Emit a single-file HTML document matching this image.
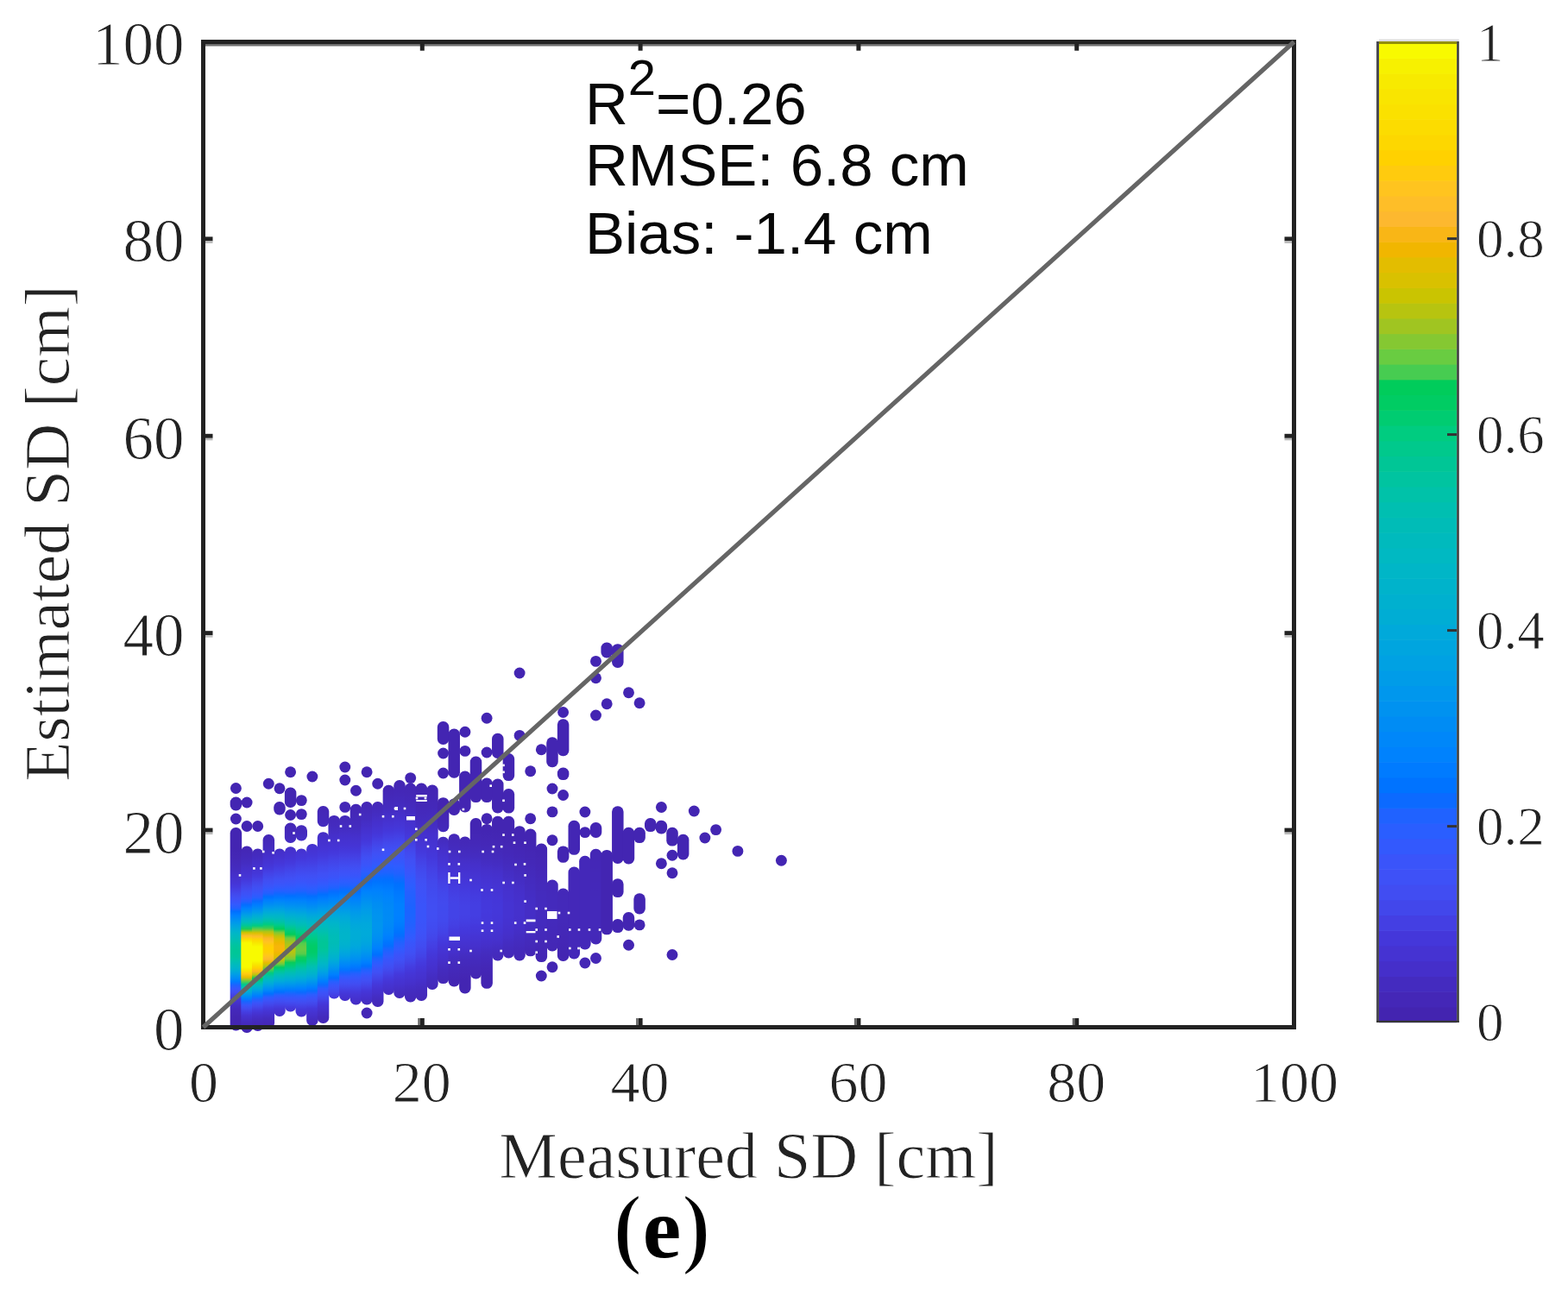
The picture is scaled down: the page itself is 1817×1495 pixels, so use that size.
<!DOCTYPE html>
<html><head><meta charset="utf-8"><style>
html,body{margin:0;padding:0;background:#fff;}
body{width:1817px;height:1495px;overflow:hidden;}
svg{display:block;}
</style></head><body>
<svg width="1817" height="1495" viewBox="0 0 1817 1495">
<rect width="100%" height="100%" fill="#fff"/>
<g id="sc"><defs><linearGradient id="g1" x1="0" y1="0" x2="0" y2="1"><stop offset="0.000" stop-color="#4325b2"/><stop offset="0.103" stop-color="#4325b2"/><stop offset="0.121" stop-color="#4326b4"/><stop offset="0.138" stop-color="#4427b5"/><stop offset="0.155" stop-color="#4428b7"/><stop offset="0.172" stop-color="#4429ba"/><stop offset="0.190" stop-color="#442abd"/><stop offset="0.207" stop-color="#442cc0"/><stop offset="0.224" stop-color="#452ec6"/><stop offset="0.241" stop-color="#4530cd"/><stop offset="0.259" stop-color="#4533d1"/><stop offset="0.276" stop-color="#4535d7"/><stop offset="0.293" stop-color="#443ade"/><stop offset="0.310" stop-color="#4441e5"/><stop offset="0.328" stop-color="#4249ed"/><stop offset="0.345" stop-color="#404ff4"/><stop offset="0.362" stop-color="#3b53f9"/><stop offset="0.379" stop-color="#325afe"/><stop offset="0.397" stop-color="#2261ff"/><stop offset="0.414" stop-color="#0070ff"/><stop offset="0.431" stop-color="#007fff"/><stop offset="0.448" stop-color="#008bf5"/><stop offset="0.466" stop-color="#0098ec"/><stop offset="0.483" stop-color="#00a3e1"/><stop offset="0.500" stop-color="#00add4"/><stop offset="0.517" stop-color="#00b5c9"/><stop offset="0.534" stop-color="#00babe"/><stop offset="0.552" stop-color="#00beb3"/><stop offset="0.569" stop-color="#00c2a7"/><stop offset="0.586" stop-color="#00c59c"/><stop offset="0.603" stop-color="#00c697"/><stop offset="0.621" stop-color="#00c698"/><stop offset="0.638" stop-color="#00c49f"/><stop offset="0.655" stop-color="#00c1ae"/><stop offset="0.672" stop-color="#00bbbb"/><stop offset="0.690" stop-color="#00b5c9"/><stop offset="0.707" stop-color="#00abd7"/><stop offset="0.724" stop-color="#009de7"/><stop offset="0.741" stop-color="#008df4"/><stop offset="0.759" stop-color="#007bff"/><stop offset="0.776" stop-color="#1f62ff"/><stop offset="0.793" stop-color="#3756fb"/><stop offset="0.810" stop-color="#414ef3"/><stop offset="0.828" stop-color="#4441e5"/><stop offset="0.845" stop-color="#4536d7"/><stop offset="0.862" stop-color="#4531cd"/><stop offset="0.879" stop-color="#442dc2"/><stop offset="0.897" stop-color="#4429bb"/><stop offset="0.914" stop-color="#4427b7"/><stop offset="0.931" stop-color="#4326b3"/><stop offset="0.948" stop-color="#4325b2"/><stop offset="1.000" stop-color="#4325b2"/></linearGradient><linearGradient id="g2" x1="0" y1="0" x2="0" y2="1"><stop offset="0.000" stop-color="#4426b5"/><stop offset="0.019" stop-color="#4427b6"/><stop offset="0.037" stop-color="#4428b8"/><stop offset="0.056" stop-color="#4429bb"/><stop offset="0.074" stop-color="#442bbe"/><stop offset="0.093" stop-color="#442dc2"/><stop offset="0.111" stop-color="#452fc8"/><stop offset="0.130" stop-color="#4531ce"/><stop offset="0.148" stop-color="#4533d2"/><stop offset="0.167" stop-color="#4536d7"/><stop offset="0.185" stop-color="#443ade"/><stop offset="0.204" stop-color="#4441e5"/><stop offset="0.222" stop-color="#4248ec"/><stop offset="0.241" stop-color="#404ef3"/><stop offset="0.259" stop-color="#3c52f8"/><stop offset="0.278" stop-color="#3458fd"/><stop offset="0.296" stop-color="#2560ff"/><stop offset="0.315" stop-color="#046eff"/><stop offset="0.333" stop-color="#0080ff"/><stop offset="0.352" stop-color="#008ff2"/><stop offset="0.370" stop-color="#00a0e4"/><stop offset="0.389" stop-color="#00afd1"/><stop offset="0.407" stop-color="#00bbbc"/><stop offset="0.426" stop-color="#00c796"/><stop offset="0.444" stop-color="#1ecc56"/><stop offset="0.463" stop-color="#cdc300"/><stop offset="0.481" stop-color="#febe28"/><stop offset="0.500" stop-color="#fbde00"/><stop offset="0.519" stop-color="#f8fa00"/><stop offset="0.648" stop-color="#f8fa00"/><stop offset="0.667" stop-color="#f8e600"/><stop offset="0.685" stop-color="#ffca11"/><stop offset="0.704" stop-color="#e4bd00"/><stop offset="0.722" stop-color="#6ccc40"/><stop offset="0.741" stop-color="#00c98a"/><stop offset="0.759" stop-color="#00bbba"/><stop offset="0.778" stop-color="#00aed4"/><stop offset="0.796" stop-color="#0099eb"/><stop offset="0.815" stop-color="#0082fd"/><stop offset="0.833" stop-color="#1865ff"/><stop offset="0.852" stop-color="#3856fb"/><stop offset="0.870" stop-color="#414cf0"/><stop offset="0.889" stop-color="#443de1"/><stop offset="0.907" stop-color="#4534d3"/><stop offset="0.926" stop-color="#452fc9"/><stop offset="0.944" stop-color="#442bbe"/><stop offset="0.963" stop-color="#4428b9"/><stop offset="0.981" stop-color="#4426b5"/><stop offset="1.000" stop-color="#4325b2"/></linearGradient><linearGradient id="g3" x1="0" y1="0" x2="0" y2="1"><stop offset="0.000" stop-color="#4429b9"/><stop offset="0.019" stop-color="#442abc"/><stop offset="0.038" stop-color="#442bbf"/><stop offset="0.058" stop-color="#442dc4"/><stop offset="0.077" stop-color="#452fca"/><stop offset="0.096" stop-color="#4531cf"/><stop offset="0.115" stop-color="#4534d3"/><stop offset="0.135" stop-color="#4436d8"/><stop offset="0.154" stop-color="#443bdf"/><stop offset="0.173" stop-color="#4442e6"/><stop offset="0.192" stop-color="#4249ed"/><stop offset="0.212" stop-color="#404ff3"/><stop offset="0.231" stop-color="#3c53f8"/><stop offset="0.250" stop-color="#3458fd"/><stop offset="0.269" stop-color="#275fff"/><stop offset="0.288" stop-color="#096cff"/><stop offset="0.308" stop-color="#007dff"/><stop offset="0.327" stop-color="#008bf5"/><stop offset="0.346" stop-color="#009aea"/><stop offset="0.365" stop-color="#00aad9"/><stop offset="0.385" stop-color="#00b6c7"/><stop offset="0.404" stop-color="#00c0af"/><stop offset="0.423" stop-color="#00cc80"/><stop offset="0.442" stop-color="#68cc42"/><stop offset="0.462" stop-color="#d9c100"/><stop offset="0.481" stop-color="#febd29"/><stop offset="0.500" stop-color="#fdd800"/><stop offset="0.519" stop-color="#f7ea00"/><stop offset="0.538" stop-color="#f8fa00"/><stop offset="0.615" stop-color="#f8fa00"/><stop offset="0.635" stop-color="#f8e600"/><stop offset="0.654" stop-color="#ffd200"/><stop offset="0.673" stop-color="#fab720"/><stop offset="0.692" stop-color="#bac40e"/><stop offset="0.712" stop-color="#00cc5d"/><stop offset="0.731" stop-color="#00c49e"/><stop offset="0.750" stop-color="#00b8c3"/><stop offset="0.769" stop-color="#00a9db"/><stop offset="0.788" stop-color="#0093ef"/><stop offset="0.808" stop-color="#007dff"/><stop offset="0.827" stop-color="#2261ff"/><stop offset="0.846" stop-color="#3a54fa"/><stop offset="0.865" stop-color="#424aee"/><stop offset="0.885" stop-color="#443bdf"/><stop offset="0.904" stop-color="#4533d2"/><stop offset="0.923" stop-color="#452ec7"/><stop offset="0.942" stop-color="#442bbd"/><stop offset="0.962" stop-color="#4428b8"/><stop offset="0.981" stop-color="#4426b5"/><stop offset="1.000" stop-color="#4325b2"/></linearGradient><linearGradient id="g4" x1="0" y1="0" x2="0" y2="1"><stop offset="0.000" stop-color="#4427b6"/><stop offset="0.018" stop-color="#4428b8"/><stop offset="0.036" stop-color="#4429ba"/><stop offset="0.054" stop-color="#442abd"/><stop offset="0.071" stop-color="#442cbf"/><stop offset="0.089" stop-color="#442dc4"/><stop offset="0.107" stop-color="#452fca"/><stop offset="0.125" stop-color="#4531cf"/><stop offset="0.143" stop-color="#4533d3"/><stop offset="0.161" stop-color="#4436d8"/><stop offset="0.179" stop-color="#443ade"/><stop offset="0.196" stop-color="#4441e5"/><stop offset="0.214" stop-color="#4247eb"/><stop offset="0.232" stop-color="#414df1"/><stop offset="0.250" stop-color="#3e51f6"/><stop offset="0.268" stop-color="#3955fa"/><stop offset="0.286" stop-color="#305bff"/><stop offset="0.304" stop-color="#2161ff"/><stop offset="0.321" stop-color="#016fff"/><stop offset="0.339" stop-color="#007eff"/><stop offset="0.357" stop-color="#008af5"/><stop offset="0.375" stop-color="#0098ec"/><stop offset="0.393" stop-color="#00a5df"/><stop offset="0.411" stop-color="#00b1cf"/><stop offset="0.429" stop-color="#00babf"/><stop offset="0.446" stop-color="#00c2a7"/><stop offset="0.464" stop-color="#00cc80"/><stop offset="0.482" stop-color="#39cc53"/><stop offset="0.500" stop-color="#abc519"/><stop offset="0.518" stop-color="#e1be00"/><stop offset="0.536" stop-color="#fcb729"/><stop offset="0.554" stop-color="#ffc321"/><stop offset="0.571" stop-color="#ffcc09"/><stop offset="0.589" stop-color="#ffd000"/><stop offset="0.607" stop-color="#ffce06"/><stop offset="0.625" stop-color="#ffc61c"/><stop offset="0.643" stop-color="#fdb92e"/><stop offset="0.661" stop-color="#e6bc00"/><stop offset="0.679" stop-color="#b7c411"/><stop offset="0.696" stop-color="#4fcc4e"/><stop offset="0.714" stop-color="#00cc80"/><stop offset="0.732" stop-color="#00c1ab"/><stop offset="0.750" stop-color="#00b8c4"/><stop offset="0.768" stop-color="#00abd8"/><stop offset="0.786" stop-color="#009aea"/><stop offset="0.804" stop-color="#0087f9"/><stop offset="0.821" stop-color="#0071ff"/><stop offset="0.839" stop-color="#2c5dff"/><stop offset="0.857" stop-color="#3c52f8"/><stop offset="0.875" stop-color="#4249ed"/><stop offset="0.893" stop-color="#443ce0"/><stop offset="0.911" stop-color="#4534d4"/><stop offset="0.929" stop-color="#4530cb"/><stop offset="0.946" stop-color="#442cc0"/><stop offset="0.964" stop-color="#4429ba"/><stop offset="0.982" stop-color="#4427b6"/><stop offset="1.000" stop-color="#4326b4"/></linearGradient><linearGradient id="g5" x1="0" y1="0" x2="0" y2="1"><stop offset="0.000" stop-color="#442ec5"/><stop offset="0.021" stop-color="#4530cb"/><stop offset="0.042" stop-color="#4531cf"/><stop offset="0.062" stop-color="#4534d3"/><stop offset="0.083" stop-color="#4536d8"/><stop offset="0.104" stop-color="#443ade"/><stop offset="0.125" stop-color="#4440e4"/><stop offset="0.146" stop-color="#4246ea"/><stop offset="0.167" stop-color="#414cf0"/><stop offset="0.188" stop-color="#3f51f6"/><stop offset="0.208" stop-color="#3b54f9"/><stop offset="0.229" stop-color="#3359fd"/><stop offset="0.250" stop-color="#265fff"/><stop offset="0.271" stop-color="#0e69ff"/><stop offset="0.292" stop-color="#0078ff"/><stop offset="0.312" stop-color="#0085fb"/><stop offset="0.333" stop-color="#0090f1"/><stop offset="0.354" stop-color="#009de7"/><stop offset="0.375" stop-color="#00a9da"/><stop offset="0.396" stop-color="#00b3cb"/><stop offset="0.417" stop-color="#00babd"/><stop offset="0.438" stop-color="#00c2a6"/><stop offset="0.458" stop-color="#00cb85"/><stop offset="0.479" stop-color="#00cc5c"/><stop offset="0.500" stop-color="#7ec936"/><stop offset="0.521" stop-color="#bdc40b"/><stop offset="0.542" stop-color="#debf00"/><stop offset="0.562" stop-color="#eeb800"/><stop offset="0.583" stop-color="#f7b50a"/><stop offset="0.604" stop-color="#f7b50a"/><stop offset="0.625" stop-color="#eeb800"/><stop offset="0.646" stop-color="#dcc000"/><stop offset="0.667" stop-color="#b7c410"/><stop offset="0.688" stop-color="#6ecc3f"/><stop offset="0.708" stop-color="#00cc65"/><stop offset="0.729" stop-color="#00c794"/><stop offset="0.750" stop-color="#00beb5"/><stop offset="0.771" stop-color="#00b5c8"/><stop offset="0.792" stop-color="#00a9db"/><stop offset="0.812" stop-color="#0098ec"/><stop offset="0.833" stop-color="#0086f9"/><stop offset="0.854" stop-color="#0071ff"/><stop offset="0.875" stop-color="#2a5eff"/><stop offset="0.896" stop-color="#3b53f9"/><stop offset="0.917" stop-color="#414bef"/><stop offset="0.938" stop-color="#443ee2"/><stop offset="0.958" stop-color="#4535d6"/><stop offset="0.979" stop-color="#4531cd"/><stop offset="1.000" stop-color="#442dc3"/></linearGradient><linearGradient id="g6" x1="0" y1="0" x2="0" y2="1"><stop offset="0.000" stop-color="#4427b5"/><stop offset="0.200" stop-color="#4428b7"/><stop offset="0.400" stop-color="#4429b9"/><stop offset="0.600" stop-color="#442abc"/><stop offset="0.800" stop-color="#442bbf"/><stop offset="1.000" stop-color="#442dc3"/></linearGradient><linearGradient id="g7" x1="0" y1="0" x2="0" y2="1"><stop offset="0.000" stop-color="#452fc9"/><stop offset="0.021" stop-color="#4531cd"/><stop offset="0.043" stop-color="#4532d1"/><stop offset="0.064" stop-color="#4534d5"/><stop offset="0.085" stop-color="#4437da"/><stop offset="0.106" stop-color="#443bdf"/><stop offset="0.128" stop-color="#4441e5"/><stop offset="0.149" stop-color="#4247eb"/><stop offset="0.170" stop-color="#414cf0"/><stop offset="0.191" stop-color="#4050f5"/><stop offset="0.213" stop-color="#3c53f9"/><stop offset="0.234" stop-color="#3557fc"/><stop offset="0.255" stop-color="#2c5dff"/><stop offset="0.277" stop-color="#1d63ff"/><stop offset="0.298" stop-color="#0070ff"/><stop offset="0.319" stop-color="#007dff"/><stop offset="0.340" stop-color="#0088f8"/><stop offset="0.362" stop-color="#0093f0"/><stop offset="0.383" stop-color="#009ee6"/><stop offset="0.404" stop-color="#00a9da"/><stop offset="0.426" stop-color="#00b2cd"/><stop offset="0.447" stop-color="#00b9c0"/><stop offset="0.468" stop-color="#00c0b0"/><stop offset="0.489" stop-color="#00c796"/><stop offset="0.511" stop-color="#00cc75"/><stop offset="0.532" stop-color="#02cc5a"/><stop offset="0.553" stop-color="#6ecc3f"/><stop offset="0.574" stop-color="#99c625"/><stop offset="0.596" stop-color="#b2c414"/><stop offset="0.617" stop-color="#bbc40d"/><stop offset="0.638" stop-color="#b7c411"/><stop offset="0.660" stop-color="#a1c521"/><stop offset="0.681" stop-color="#75cb3b"/><stop offset="0.702" stop-color="#0acc59"/><stop offset="0.723" stop-color="#00cc78"/><stop offset="0.745" stop-color="#00c59b"/><stop offset="0.766" stop-color="#00bdb6"/><stop offset="0.787" stop-color="#00b5c8"/><stop offset="0.809" stop-color="#00aad9"/><stop offset="0.830" stop-color="#009be9"/><stop offset="0.851" stop-color="#008af5"/><stop offset="0.872" stop-color="#0078ff"/><stop offset="0.894" stop-color="#2062ff"/><stop offset="0.915" stop-color="#3657fc"/><stop offset="0.936" stop-color="#4050f5"/><stop offset="0.957" stop-color="#4345e9"/><stop offset="0.979" stop-color="#4438dc"/><stop offset="1.000" stop-color="#4533d2"/></linearGradient><linearGradient id="g8" x1="0" y1="0" x2="0" y2="1"><stop offset="0.000" stop-color="#4429ba"/><stop offset="0.250" stop-color="#442abc"/><stop offset="0.500" stop-color="#442bbe"/><stop offset="0.750" stop-color="#442dc2"/><stop offset="1.000" stop-color="#452ec7"/></linearGradient><linearGradient id="g9" x1="0" y1="0" x2="0" y2="1"><stop offset="0.000" stop-color="#4532d0"/><stop offset="0.021" stop-color="#4534d3"/><stop offset="0.042" stop-color="#4536d8"/><stop offset="0.062" stop-color="#4438dc"/><stop offset="0.083" stop-color="#443ee2"/><stop offset="0.104" stop-color="#4343e7"/><stop offset="0.125" stop-color="#4248ec"/><stop offset="0.146" stop-color="#414cf1"/><stop offset="0.167" stop-color="#3f50f6"/><stop offset="0.188" stop-color="#3c53f9"/><stop offset="0.208" stop-color="#3657fc"/><stop offset="0.229" stop-color="#2e5cff"/><stop offset="0.250" stop-color="#2261ff"/><stop offset="0.271" stop-color="#0a6bff"/><stop offset="0.292" stop-color="#0077ff"/><stop offset="0.312" stop-color="#0083fc"/><stop offset="0.333" stop-color="#008cf4"/><stop offset="0.354" stop-color="#0097ed"/><stop offset="0.375" stop-color="#00a2e2"/><stop offset="0.396" stop-color="#00acd7"/><stop offset="0.417" stop-color="#00b3cb"/><stop offset="0.438" stop-color="#00babf"/><stop offset="0.458" stop-color="#00bfb1"/><stop offset="0.479" stop-color="#00c59c"/><stop offset="0.500" stop-color="#00cb85"/><stop offset="0.521" stop-color="#00cc69"/><stop offset="0.542" stop-color="#03cc5a"/><stop offset="0.562" stop-color="#53cc4d"/><stop offset="0.583" stop-color="#66cc43"/><stop offset="0.604" stop-color="#69cc42"/><stop offset="0.625" stop-color="#58cc4a"/><stop offset="0.646" stop-color="#11cc58"/><stop offset="0.667" stop-color="#00cc69"/><stop offset="0.688" stop-color="#00ca88"/><stop offset="0.708" stop-color="#00c4a2"/><stop offset="0.729" stop-color="#00bcb8"/><stop offset="0.750" stop-color="#00b6c7"/><stop offset="0.771" stop-color="#00acd6"/><stop offset="0.792" stop-color="#009fe5"/><stop offset="0.812" stop-color="#008ff2"/><stop offset="0.833" stop-color="#0080ff"/><stop offset="0.854" stop-color="#0a6bff"/><stop offset="0.875" stop-color="#2d5dff"/><stop offset="0.896" stop-color="#3b53f9"/><stop offset="0.917" stop-color="#414cf0"/><stop offset="0.938" stop-color="#4441e5"/><stop offset="0.958" stop-color="#4437da"/><stop offset="0.979" stop-color="#4532d1"/><stop offset="1.000" stop-color="#452fc9"/></linearGradient><linearGradient id="g10" x1="0" y1="0" x2="0" y2="1"><stop offset="0.000" stop-color="#4531ce"/><stop offset="0.019" stop-color="#4533d1"/><stop offset="0.038" stop-color="#4534d4"/><stop offset="0.058" stop-color="#4436d8"/><stop offset="0.077" stop-color="#4439dd"/><stop offset="0.096" stop-color="#443de1"/><stop offset="0.115" stop-color="#4342e6"/><stop offset="0.135" stop-color="#4247eb"/><stop offset="0.154" stop-color="#414bef"/><stop offset="0.173" stop-color="#404ff4"/><stop offset="0.192" stop-color="#3d52f7"/><stop offset="0.212" stop-color="#3a54fa"/><stop offset="0.231" stop-color="#3359fd"/><stop offset="0.250" stop-color="#2a5eff"/><stop offset="0.269" stop-color="#1c63ff"/><stop offset="0.288" stop-color="#026fff"/><stop offset="0.308" stop-color="#007bff"/><stop offset="0.327" stop-color="#0085fa"/><stop offset="0.346" stop-color="#008ef2"/><stop offset="0.365" stop-color="#0099eb"/><stop offset="0.385" stop-color="#00a3e1"/><stop offset="0.404" stop-color="#00acd6"/><stop offset="0.423" stop-color="#00b3cb"/><stop offset="0.442" stop-color="#00b9c1"/><stop offset="0.462" stop-color="#00bdb5"/><stop offset="0.481" stop-color="#00c3a6"/><stop offset="0.500" stop-color="#00c795"/><stop offset="0.519" stop-color="#00cb84"/><stop offset="0.538" stop-color="#00cc74"/><stop offset="0.558" stop-color="#00cc69"/><stop offset="0.577" stop-color="#00cc66"/><stop offset="0.596" stop-color="#00cc69"/><stop offset="0.615" stop-color="#00cc75"/><stop offset="0.635" stop-color="#00ca88"/><stop offset="0.654" stop-color="#00c59b"/><stop offset="0.673" stop-color="#00c0b0"/><stop offset="0.692" stop-color="#00babe"/><stop offset="0.712" stop-color="#00b3cb"/><stop offset="0.731" stop-color="#00aad9"/><stop offset="0.750" stop-color="#009de7"/><stop offset="0.769" stop-color="#008ef2"/><stop offset="0.788" stop-color="#0080ff"/><stop offset="0.808" stop-color="#086dff"/><stop offset="0.827" stop-color="#2b5eff"/><stop offset="0.846" stop-color="#3a54fa"/><stop offset="0.865" stop-color="#414ef2"/><stop offset="0.885" stop-color="#4344e8"/><stop offset="0.904" stop-color="#4438dc"/><stop offset="0.923" stop-color="#4534d3"/><stop offset="0.942" stop-color="#4530cc"/><stop offset="0.962" stop-color="#442dc3"/><stop offset="0.981" stop-color="#442abd"/><stop offset="1.000" stop-color="#4428b9"/></linearGradient><linearGradient id="g11" x1="0" y1="0" x2="0" y2="1"><stop offset="0.000" stop-color="#4427b5"/><stop offset="0.167" stop-color="#4427b6"/><stop offset="0.333" stop-color="#4428b8"/><stop offset="0.500" stop-color="#4429b9"/><stop offset="0.667" stop-color="#4429bb"/><stop offset="0.833" stop-color="#442abd"/><stop offset="1.000" stop-color="#442cbf"/></linearGradient><linearGradient id="g12" x1="0" y1="0" x2="0" y2="1"><stop offset="0.000" stop-color="#442dc4"/><stop offset="0.018" stop-color="#452fc8"/><stop offset="0.036" stop-color="#4530cd"/><stop offset="0.055" stop-color="#4532cf"/><stop offset="0.073" stop-color="#4533d3"/><stop offset="0.091" stop-color="#4535d6"/><stop offset="0.109" stop-color="#4437da"/><stop offset="0.127" stop-color="#443ade"/><stop offset="0.145" stop-color="#443fe3"/><stop offset="0.164" stop-color="#4344e8"/><stop offset="0.182" stop-color="#4249ed"/><stop offset="0.200" stop-color="#414cf1"/><stop offset="0.218" stop-color="#4050f5"/><stop offset="0.236" stop-color="#3d52f8"/><stop offset="0.255" stop-color="#3855fb"/><stop offset="0.273" stop-color="#325afe"/><stop offset="0.291" stop-color="#285fff"/><stop offset="0.309" stop-color="#1965ff"/><stop offset="0.327" stop-color="#0070ff"/><stop offset="0.345" stop-color="#007bff"/><stop offset="0.364" stop-color="#0085fa"/><stop offset="0.382" stop-color="#008ef3"/><stop offset="0.400" stop-color="#0098ec"/><stop offset="0.418" stop-color="#00a1e3"/><stop offset="0.436" stop-color="#00a9da"/><stop offset="0.455" stop-color="#00b0d0"/><stop offset="0.473" stop-color="#00b6c7"/><stop offset="0.491" stop-color="#00babf"/><stop offset="0.509" stop-color="#00bdb6"/><stop offset="0.527" stop-color="#00c1ac"/><stop offset="0.545" stop-color="#00c4a1"/><stop offset="0.564" stop-color="#00c59a"/><stop offset="0.582" stop-color="#00c697"/><stop offset="0.600" stop-color="#00c697"/><stop offset="0.618" stop-color="#00c59c"/><stop offset="0.636" stop-color="#00c2a6"/><stop offset="0.655" stop-color="#00bfb2"/><stop offset="0.673" stop-color="#00babd"/><stop offset="0.691" stop-color="#00b6c8"/><stop offset="0.709" stop-color="#00aed2"/><stop offset="0.727" stop-color="#00a5df"/><stop offset="0.745" stop-color="#0099eb"/><stop offset="0.764" stop-color="#008bf5"/><stop offset="0.782" stop-color="#007dff"/><stop offset="0.800" stop-color="#0c6bff"/><stop offset="0.818" stop-color="#2b5dff"/><stop offset="0.836" stop-color="#3a54fa"/><stop offset="0.855" stop-color="#404ef3"/><stop offset="0.873" stop-color="#4345e9"/><stop offset="0.891" stop-color="#443ade"/><stop offset="0.909" stop-color="#4534d4"/><stop offset="0.927" stop-color="#4531ce"/><stop offset="0.945" stop-color="#442ec5"/><stop offset="0.964" stop-color="#442bbe"/><stop offset="0.982" stop-color="#4429ba"/><stop offset="1.000" stop-color="#4427b7"/></linearGradient><linearGradient id="g13" x1="0" y1="0" x2="0" y2="1"><stop offset="0.000" stop-color="#4428b9"/><stop offset="0.019" stop-color="#4429bb"/><stop offset="0.038" stop-color="#442abd"/><stop offset="0.057" stop-color="#442bbf"/><stop offset="0.075" stop-color="#442dc2"/><stop offset="0.094" stop-color="#452ec6"/><stop offset="0.113" stop-color="#4530cb"/><stop offset="0.132" stop-color="#4531ce"/><stop offset="0.151" stop-color="#4533d1"/><stop offset="0.170" stop-color="#4534d5"/><stop offset="0.189" stop-color="#4436d9"/><stop offset="0.208" stop-color="#4439dd"/><stop offset="0.226" stop-color="#443ee2"/><stop offset="0.245" stop-color="#4343e7"/><stop offset="0.264" stop-color="#4247eb"/><stop offset="0.283" stop-color="#414bf0"/><stop offset="0.302" stop-color="#404ff4"/><stop offset="0.321" stop-color="#3d52f7"/><stop offset="0.340" stop-color="#3a54fa"/><stop offset="0.358" stop-color="#3359fd"/><stop offset="0.377" stop-color="#2b5eff"/><stop offset="0.396" stop-color="#1f62ff"/><stop offset="0.415" stop-color="#076dff"/><stop offset="0.434" stop-color="#0077ff"/><stop offset="0.453" stop-color="#0081fe"/><stop offset="0.472" stop-color="#0089f6"/><stop offset="0.491" stop-color="#0092f0"/><stop offset="0.509" stop-color="#009aea"/><stop offset="0.528" stop-color="#00a2e2"/><stop offset="0.547" stop-color="#00a9da"/><stop offset="0.566" stop-color="#00afd1"/><stop offset="0.585" stop-color="#00b4cb"/><stop offset="0.604" stop-color="#00b7c5"/><stop offset="0.623" stop-color="#00babf"/><stop offset="0.642" stop-color="#00bbbb"/><stop offset="0.660" stop-color="#00bcb8"/><stop offset="0.679" stop-color="#00bdb7"/><stop offset="0.698" stop-color="#00bcb7"/><stop offset="0.717" stop-color="#00bbbb"/><stop offset="0.736" stop-color="#00b9c0"/><stop offset="0.755" stop-color="#00b6c7"/><stop offset="0.774" stop-color="#00b1ce"/><stop offset="0.792" stop-color="#00abd8"/><stop offset="0.811" stop-color="#00a2e2"/><stop offset="0.830" stop-color="#0097ec"/><stop offset="0.849" stop-color="#008bf4"/><stop offset="0.868" stop-color="#0080ff"/><stop offset="0.887" stop-color="#026fff"/><stop offset="0.906" stop-color="#2560ff"/><stop offset="0.925" stop-color="#3657fc"/><stop offset="0.943" stop-color="#3e51f6"/><stop offset="0.962" stop-color="#424aee"/><stop offset="0.981" stop-color="#4440e4"/><stop offset="1.000" stop-color="#4437da"/></linearGradient><linearGradient id="g14" x1="0" y1="0" x2="0" y2="1"><stop offset="0.000" stop-color="#4429b9"/><stop offset="0.019" stop-color="#442abb"/><stop offset="0.038" stop-color="#442bbd"/><stop offset="0.057" stop-color="#442cc0"/><stop offset="0.075" stop-color="#442dc4"/><stop offset="0.094" stop-color="#452fc8"/><stop offset="0.113" stop-color="#4530cd"/><stop offset="0.132" stop-color="#4532d0"/><stop offset="0.151" stop-color="#4533d3"/><stop offset="0.170" stop-color="#4535d7"/><stop offset="0.189" stop-color="#4438db"/><stop offset="0.208" stop-color="#443ce0"/><stop offset="0.226" stop-color="#4441e5"/><stop offset="0.245" stop-color="#4246ea"/><stop offset="0.264" stop-color="#414aef"/><stop offset="0.283" stop-color="#404ff3"/><stop offset="0.302" stop-color="#3e51f7"/><stop offset="0.321" stop-color="#3b54fa"/><stop offset="0.340" stop-color="#3458fd"/><stop offset="0.358" stop-color="#2d5dff"/><stop offset="0.377" stop-color="#2261ff"/><stop offset="0.396" stop-color="#0e6aff"/><stop offset="0.415" stop-color="#0074ff"/><stop offset="0.434" stop-color="#007eff"/><stop offset="0.453" stop-color="#0085fa"/><stop offset="0.472" stop-color="#008df4"/><stop offset="0.491" stop-color="#0094ef"/><stop offset="0.509" stop-color="#009be9"/><stop offset="0.528" stop-color="#00a2e2"/><stop offset="0.547" stop-color="#00a8dc"/><stop offset="0.566" stop-color="#00acd6"/><stop offset="0.585" stop-color="#00afd1"/><stop offset="0.604" stop-color="#00b2cd"/><stop offset="0.623" stop-color="#00b3cb"/><stop offset="0.642" stop-color="#00b4ca"/><stop offset="0.660" stop-color="#00b4ca"/><stop offset="0.679" stop-color="#00b3cc"/><stop offset="0.698" stop-color="#00b1cf"/><stop offset="0.717" stop-color="#00add4"/><stop offset="0.736" stop-color="#00a8dc"/><stop offset="0.755" stop-color="#00a1e3"/><stop offset="0.774" stop-color="#0098ec"/><stop offset="0.792" stop-color="#008ef3"/><stop offset="0.811" stop-color="#0084fb"/><stop offset="0.830" stop-color="#0077ff"/><stop offset="0.849" stop-color="#1566ff"/><stop offset="0.868" stop-color="#2d5dff"/><stop offset="0.887" stop-color="#3a54fa"/><stop offset="0.906" stop-color="#4050f5"/><stop offset="0.925" stop-color="#4248ec"/><stop offset="0.943" stop-color="#443ee2"/><stop offset="0.962" stop-color="#4436d8"/><stop offset="0.981" stop-color="#4532d1"/><stop offset="1.000" stop-color="#452fca"/></linearGradient><linearGradient id="g15" x1="0" y1="0" x2="0" y2="1"><stop offset="0.000" stop-color="#4326b4"/><stop offset="0.017" stop-color="#4426b5"/><stop offset="0.034" stop-color="#4427b6"/><stop offset="0.052" stop-color="#4428b8"/><stop offset="0.069" stop-color="#4429ba"/><stop offset="0.086" stop-color="#442abc"/><stop offset="0.103" stop-color="#442bbe"/><stop offset="0.121" stop-color="#442cc1"/><stop offset="0.138" stop-color="#442ec5"/><stop offset="0.155" stop-color="#452fca"/><stop offset="0.172" stop-color="#4531ce"/><stop offset="0.190" stop-color="#4533d1"/><stop offset="0.207" stop-color="#4534d5"/><stop offset="0.224" stop-color="#4437d9"/><stop offset="0.241" stop-color="#443ade"/><stop offset="0.259" stop-color="#443fe3"/><stop offset="0.276" stop-color="#4344e8"/><stop offset="0.293" stop-color="#4249ed"/><stop offset="0.310" stop-color="#414df2"/><stop offset="0.328" stop-color="#3f51f6"/><stop offset="0.345" stop-color="#3c53f9"/><stop offset="0.362" stop-color="#3756fb"/><stop offset="0.379" stop-color="#305bfe"/><stop offset="0.397" stop-color="#275fff"/><stop offset="0.414" stop-color="#1b64ff"/><stop offset="0.431" stop-color="#066dff"/><stop offset="0.448" stop-color="#0076ff"/><stop offset="0.466" stop-color="#007fff"/><stop offset="0.483" stop-color="#0085fa"/><stop offset="0.500" stop-color="#008bf5"/><stop offset="0.517" stop-color="#0092f0"/><stop offset="0.534" stop-color="#0098ec"/><stop offset="0.552" stop-color="#009de7"/><stop offset="0.569" stop-color="#00a1e3"/><stop offset="0.586" stop-color="#00a5df"/><stop offset="0.603" stop-color="#00a8db"/><stop offset="0.621" stop-color="#00aad8"/><stop offset="0.638" stop-color="#00acd7"/><stop offset="0.655" stop-color="#00acd6"/><stop offset="0.672" stop-color="#00acd6"/><stop offset="0.690" stop-color="#00aad9"/><stop offset="0.707" stop-color="#00a8dc"/><stop offset="0.724" stop-color="#00a3e1"/><stop offset="0.741" stop-color="#009de7"/><stop offset="0.759" stop-color="#0096ed"/><stop offset="0.776" stop-color="#008ef3"/><stop offset="0.793" stop-color="#0085fa"/><stop offset="0.810" stop-color="#007aff"/><stop offset="0.828" stop-color="#086cff"/><stop offset="0.845" stop-color="#2560ff"/><stop offset="0.862" stop-color="#3359fd"/><stop offset="0.879" stop-color="#3c52f8"/><stop offset="0.897" stop-color="#414df2"/><stop offset="0.914" stop-color="#4345e9"/><stop offset="0.931" stop-color="#443ce0"/><stop offset="0.948" stop-color="#4536d7"/><stop offset="0.966" stop-color="#4532d0"/><stop offset="0.983" stop-color="#452fca"/><stop offset="1.000" stop-color="#442dc2"/></linearGradient><linearGradient id="g16" x1="0" y1="0" x2="0" y2="1"><stop offset="0.000" stop-color="#4427b6"/><stop offset="0.017" stop-color="#4428b7"/><stop offset="0.034" stop-color="#4429b9"/><stop offset="0.052" stop-color="#442abb"/><stop offset="0.069" stop-color="#442bbe"/><stop offset="0.086" stop-color="#442cc0"/><stop offset="0.103" stop-color="#442ec5"/><stop offset="0.121" stop-color="#452fca"/><stop offset="0.138" stop-color="#4531ce"/><stop offset="0.155" stop-color="#4533d2"/><stop offset="0.172" stop-color="#4535d6"/><stop offset="0.190" stop-color="#4437da"/><stop offset="0.207" stop-color="#443bdf"/><stop offset="0.224" stop-color="#4441e5"/><stop offset="0.241" stop-color="#4246ea"/><stop offset="0.259" stop-color="#414bef"/><stop offset="0.276" stop-color="#404ff4"/><stop offset="0.293" stop-color="#3d52f7"/><stop offset="0.310" stop-color="#3a54fa"/><stop offset="0.328" stop-color="#3458fd"/><stop offset="0.345" stop-color="#2d5dff"/><stop offset="0.362" stop-color="#2460ff"/><stop offset="0.379" stop-color="#1666ff"/><stop offset="0.397" stop-color="#036fff"/><stop offset="0.414" stop-color="#0076ff"/><stop offset="0.431" stop-color="#007eff"/><stop offset="0.448" stop-color="#0084fc"/><stop offset="0.466" stop-color="#0089f7"/><stop offset="0.483" stop-color="#008ef3"/><stop offset="0.500" stop-color="#0093ef"/><stop offset="0.517" stop-color="#0098ec"/><stop offset="0.534" stop-color="#009ce8"/><stop offset="0.552" stop-color="#009fe5"/><stop offset="0.569" stop-color="#00a3e1"/><stop offset="0.586" stop-color="#00a5df"/><stop offset="0.603" stop-color="#00a8dc"/><stop offset="0.621" stop-color="#00a9db"/><stop offset="0.638" stop-color="#00aada"/><stop offset="0.655" stop-color="#00aada"/><stop offset="0.672" stop-color="#00a8db"/><stop offset="0.690" stop-color="#00a6de"/><stop offset="0.707" stop-color="#00a2e2"/><stop offset="0.724" stop-color="#009de7"/><stop offset="0.741" stop-color="#0097ed"/><stop offset="0.759" stop-color="#008ff2"/><stop offset="0.776" stop-color="#0087f9"/><stop offset="0.793" stop-color="#007eff"/><stop offset="0.810" stop-color="#0071ff"/><stop offset="0.828" stop-color="#1f62ff"/><stop offset="0.845" stop-color="#2f5cff"/><stop offset="0.862" stop-color="#3a54fa"/><stop offset="0.879" stop-color="#4050f5"/><stop offset="0.897" stop-color="#4249ed"/><stop offset="0.914" stop-color="#4440e4"/><stop offset="0.931" stop-color="#4437da"/><stop offset="0.948" stop-color="#4533d3"/><stop offset="0.966" stop-color="#4530cd"/><stop offset="0.983" stop-color="#442ec5"/><stop offset="1.000" stop-color="#442bbe"/></linearGradient><linearGradient id="g17" x1="0" y1="0" x2="0" y2="1"><stop offset="0.000" stop-color="#4428b9"/><stop offset="0.017" stop-color="#4429bb"/><stop offset="0.034" stop-color="#442abd"/><stop offset="0.051" stop-color="#442cbf"/><stop offset="0.068" stop-color="#442dc3"/><stop offset="0.085" stop-color="#452fc8"/><stop offset="0.102" stop-color="#4530cd"/><stop offset="0.119" stop-color="#4532d0"/><stop offset="0.136" stop-color="#4534d4"/><stop offset="0.153" stop-color="#4436d8"/><stop offset="0.169" stop-color="#4439dd"/><stop offset="0.186" stop-color="#443fe3"/><stop offset="0.203" stop-color="#4344e8"/><stop offset="0.220" stop-color="#4249ed"/><stop offset="0.237" stop-color="#414df1"/><stop offset="0.254" stop-color="#3f50f6"/><stop offset="0.271" stop-color="#3c53f8"/><stop offset="0.288" stop-color="#3855fb"/><stop offset="0.305" stop-color="#3359fd"/><stop offset="0.322" stop-color="#2c5dff"/><stop offset="0.339" stop-color="#2360ff"/><stop offset="0.356" stop-color="#1766ff"/><stop offset="0.373" stop-color="#076dff"/><stop offset="0.390" stop-color="#0073ff"/><stop offset="0.407" stop-color="#0079ff"/><stop offset="0.424" stop-color="#007fff"/><stop offset="0.441" stop-color="#0083fc"/><stop offset="0.458" stop-color="#0086f9"/><stop offset="0.475" stop-color="#0089f7"/><stop offset="0.492" stop-color="#008cf4"/><stop offset="0.508" stop-color="#008ef2"/><stop offset="0.525" stop-color="#0091f1"/><stop offset="0.542" stop-color="#0092f0"/><stop offset="0.559" stop-color="#0094ef"/><stop offset="0.576" stop-color="#0094ee"/><stop offset="0.593" stop-color="#0095ee"/><stop offset="0.610" stop-color="#0095ee"/><stop offset="0.627" stop-color="#0094ef"/><stop offset="0.644" stop-color="#0092f0"/><stop offset="0.661" stop-color="#008ff2"/><stop offset="0.678" stop-color="#008bf5"/><stop offset="0.695" stop-color="#0086f9"/><stop offset="0.712" stop-color="#0081fe"/><stop offset="0.729" stop-color="#0079ff"/><stop offset="0.746" stop-color="#0070ff"/><stop offset="0.763" stop-color="#1965ff"/><stop offset="0.780" stop-color="#295eff"/><stop offset="0.797" stop-color="#3359fd"/><stop offset="0.814" stop-color="#3b53f9"/><stop offset="0.831" stop-color="#4050f5"/><stop offset="0.847" stop-color="#424aee"/><stop offset="0.864" stop-color="#4343e7"/><stop offset="0.881" stop-color="#443bdf"/><stop offset="0.898" stop-color="#4536d7"/><stop offset="0.915" stop-color="#4532d1"/><stop offset="0.932" stop-color="#4530cc"/><stop offset="0.949" stop-color="#442dc4"/><stop offset="0.966" stop-color="#442bbe"/><stop offset="0.983" stop-color="#4429bb"/><stop offset="1.000" stop-color="#4428b8"/></linearGradient><linearGradient id="g18" x1="0" y1="0" x2="0" y2="1"><stop offset="0.000" stop-color="#4326b4"/><stop offset="0.017" stop-color="#4426b5"/><stop offset="0.033" stop-color="#4427b6"/><stop offset="0.050" stop-color="#4428b8"/><stop offset="0.067" stop-color="#4429ba"/><stop offset="0.083" stop-color="#442abc"/><stop offset="0.100" stop-color="#442bbe"/><stop offset="0.117" stop-color="#442cc1"/><stop offset="0.133" stop-color="#442ec6"/><stop offset="0.150" stop-color="#4530cb"/><stop offset="0.167" stop-color="#4531ce"/><stop offset="0.183" stop-color="#4533d2"/><stop offset="0.200" stop-color="#4535d6"/><stop offset="0.217" stop-color="#4437da"/><stop offset="0.233" stop-color="#443bdf"/><stop offset="0.250" stop-color="#4440e4"/><stop offset="0.267" stop-color="#4345e9"/><stop offset="0.283" stop-color="#424aee"/><stop offset="0.300" stop-color="#414df2"/><stop offset="0.317" stop-color="#3f51f6"/><stop offset="0.333" stop-color="#3c53f8"/><stop offset="0.350" stop-color="#3855fb"/><stop offset="0.367" stop-color="#3359fd"/><stop offset="0.383" stop-color="#2d5dff"/><stop offset="0.400" stop-color="#265fff"/><stop offset="0.417" stop-color="#1e63ff"/><stop offset="0.433" stop-color="#0f69ff"/><stop offset="0.450" stop-color="#026fff"/><stop offset="0.467" stop-color="#0074ff"/><stop offset="0.483" stop-color="#0079ff"/><stop offset="0.500" stop-color="#007eff"/><stop offset="0.517" stop-color="#0081fe"/><stop offset="0.533" stop-color="#0084fc"/><stop offset="0.550" stop-color="#0086fa"/><stop offset="0.567" stop-color="#0087f8"/><stop offset="0.583" stop-color="#0089f7"/><stop offset="0.600" stop-color="#008af6"/><stop offset="0.617" stop-color="#008af5"/><stop offset="0.633" stop-color="#008bf5"/><stop offset="0.650" stop-color="#008af6"/><stop offset="0.667" stop-color="#0089f7"/><stop offset="0.683" stop-color="#0087f8"/><stop offset="0.700" stop-color="#0085fb"/><stop offset="0.717" stop-color="#0081fe"/><stop offset="0.733" stop-color="#007cff"/><stop offset="0.750" stop-color="#0075ff"/><stop offset="0.767" stop-color="#056eff"/><stop offset="0.783" stop-color="#1965ff"/><stop offset="0.800" stop-color="#265fff"/><stop offset="0.817" stop-color="#315bfe"/><stop offset="0.833" stop-color="#3855fb"/><stop offset="0.850" stop-color="#3d52f7"/><stop offset="0.867" stop-color="#404ef3"/><stop offset="0.883" stop-color="#4249ed"/><stop offset="0.900" stop-color="#4442e6"/><stop offset="0.917" stop-color="#443bdf"/><stop offset="0.933" stop-color="#4536d8"/><stop offset="0.950" stop-color="#4533d2"/><stop offset="0.967" stop-color="#4531cd"/><stop offset="0.983" stop-color="#452ec7"/><stop offset="1.000" stop-color="#442cc0"/></linearGradient><linearGradient id="g19" x1="0" y1="0" x2="0" y2="1"><stop offset="0.000" stop-color="#4326b3"/><stop offset="0.016" stop-color="#4426b4"/><stop offset="0.032" stop-color="#4427b5"/><stop offset="0.048" stop-color="#4427b7"/><stop offset="0.063" stop-color="#4428b8"/><stop offset="0.079" stop-color="#4429ba"/><stop offset="0.095" stop-color="#442abc"/><stop offset="0.111" stop-color="#442bbf"/><stop offset="0.127" stop-color="#442dc2"/><stop offset="0.143" stop-color="#452ec6"/><stop offset="0.159" stop-color="#4530cb"/><stop offset="0.175" stop-color="#4531ce"/><stop offset="0.190" stop-color="#4533d2"/><stop offset="0.206" stop-color="#4535d5"/><stop offset="0.222" stop-color="#4437d9"/><stop offset="0.238" stop-color="#443ade"/><stop offset="0.254" stop-color="#443fe3"/><stop offset="0.270" stop-color="#4344e8"/><stop offset="0.286" stop-color="#4248ec"/><stop offset="0.302" stop-color="#414cf0"/><stop offset="0.317" stop-color="#404ff4"/><stop offset="0.333" stop-color="#3e51f7"/><stop offset="0.349" stop-color="#3b53f9"/><stop offset="0.365" stop-color="#3756fb"/><stop offset="0.381" stop-color="#3359fd"/><stop offset="0.397" stop-color="#2e5dff"/><stop offset="0.413" stop-color="#275fff"/><stop offset="0.429" stop-color="#2161ff"/><stop offset="0.444" stop-color="#1666ff"/><stop offset="0.460" stop-color="#0b6bff"/><stop offset="0.476" stop-color="#0170ff"/><stop offset="0.492" stop-color="#0073ff"/><stop offset="0.508" stop-color="#0077ff"/><stop offset="0.524" stop-color="#007aff"/><stop offset="0.540" stop-color="#007cff"/><stop offset="0.556" stop-color="#007eff"/><stop offset="0.571" stop-color="#0080ff"/><stop offset="0.587" stop-color="#0080ff"/><stop offset="0.603" stop-color="#0081fe"/><stop offset="0.619" stop-color="#0081ff"/><stop offset="0.635" stop-color="#0080ff"/><stop offset="0.651" stop-color="#007eff"/><stop offset="0.667" stop-color="#007bff"/><stop offset="0.683" stop-color="#0077ff"/><stop offset="0.698" stop-color="#0073ff"/><stop offset="0.714" stop-color="#066dff"/><stop offset="0.730" stop-color="#1567ff"/><stop offset="0.746" stop-color="#2261ff"/><stop offset="0.762" stop-color="#2a5eff"/><stop offset="0.778" stop-color="#325afe"/><stop offset="0.794" stop-color="#3855fb"/><stop offset="0.810" stop-color="#3d52f8"/><stop offset="0.825" stop-color="#4050f5"/><stop offset="0.841" stop-color="#414bef"/><stop offset="0.857" stop-color="#4346ea"/><stop offset="0.873" stop-color="#4440e4"/><stop offset="0.889" stop-color="#4439dd"/><stop offset="0.905" stop-color="#4536d7"/><stop offset="0.921" stop-color="#4533d2"/><stop offset="0.937" stop-color="#4531ce"/><stop offset="0.952" stop-color="#452fc8"/><stop offset="0.968" stop-color="#442dc2"/><stop offset="0.984" stop-color="#442bbe"/><stop offset="1.000" stop-color="#442abb"/></linearGradient><linearGradient id="g20" x1="0" y1="0" x2="0" y2="1"><stop offset="0.000" stop-color="#4326b4"/><stop offset="0.016" stop-color="#4426b5"/><stop offset="0.032" stop-color="#4427b6"/><stop offset="0.048" stop-color="#4428b7"/><stop offset="0.063" stop-color="#4428b9"/><stop offset="0.079" stop-color="#4429ba"/><stop offset="0.095" stop-color="#442abc"/><stop offset="0.111" stop-color="#442bbe"/><stop offset="0.127" stop-color="#442cc1"/><stop offset="0.143" stop-color="#442ec5"/><stop offset="0.159" stop-color="#452fc9"/><stop offset="0.175" stop-color="#4530cd"/><stop offset="0.190" stop-color="#4532d0"/><stop offset="0.206" stop-color="#4533d3"/><stop offset="0.222" stop-color="#4535d6"/><stop offset="0.238" stop-color="#4437da"/><stop offset="0.254" stop-color="#443ade"/><stop offset="0.270" stop-color="#443ee2"/><stop offset="0.286" stop-color="#4342e6"/><stop offset="0.302" stop-color="#4346ea"/><stop offset="0.317" stop-color="#4249ee"/><stop offset="0.333" stop-color="#414cf1"/><stop offset="0.349" stop-color="#404ff4"/><stop offset="0.365" stop-color="#3f51f6"/><stop offset="0.381" stop-color="#3d52f8"/><stop offset="0.397" stop-color="#3b54fa"/><stop offset="0.413" stop-color="#3856fb"/><stop offset="0.429" stop-color="#3458fd"/><stop offset="0.444" stop-color="#315afe"/><stop offset="0.460" stop-color="#2e5cff"/><stop offset="0.476" stop-color="#2b5eff"/><stop offset="0.492" stop-color="#275fff"/><stop offset="0.508" stop-color="#2460ff"/><stop offset="0.524" stop-color="#2261ff"/><stop offset="0.540" stop-color="#2062ff"/><stop offset="0.556" stop-color="#1e62ff"/><stop offset="0.571" stop-color="#1c63ff"/><stop offset="0.587" stop-color="#1b64ff"/><stop offset="0.603" stop-color="#1c64ff"/><stop offset="0.619" stop-color="#1e63ff"/><stop offset="0.635" stop-color="#2062ff"/><stop offset="0.651" stop-color="#2360ff"/><stop offset="0.667" stop-color="#275fff"/><stop offset="0.683" stop-color="#2b5dff"/><stop offset="0.698" stop-color="#305bff"/><stop offset="0.714" stop-color="#3459fd"/><stop offset="0.730" stop-color="#3855fb"/><stop offset="0.746" stop-color="#3b53f9"/><stop offset="0.762" stop-color="#3e51f7"/><stop offset="0.778" stop-color="#404ff4"/><stop offset="0.794" stop-color="#414bf0"/><stop offset="0.810" stop-color="#4247eb"/><stop offset="0.825" stop-color="#4442e6"/><stop offset="0.841" stop-color="#443ce0"/><stop offset="0.857" stop-color="#4438db"/><stop offset="0.873" stop-color="#4535d6"/><stop offset="0.889" stop-color="#4533d2"/><stop offset="0.905" stop-color="#4531ce"/><stop offset="0.921" stop-color="#452fc9"/><stop offset="0.937" stop-color="#442dc4"/><stop offset="0.952" stop-color="#442cbf"/><stop offset="0.968" stop-color="#442abc"/><stop offset="0.984" stop-color="#4429ba"/><stop offset="1.000" stop-color="#4428b8"/></linearGradient><linearGradient id="g21" x1="0" y1="0" x2="0" y2="1"><stop offset="0.000" stop-color="#4325b2"/><stop offset="0.016" stop-color="#4325b2"/><stop offset="0.032" stop-color="#4326b3"/><stop offset="0.048" stop-color="#4426b4"/><stop offset="0.063" stop-color="#4427b5"/><stop offset="0.079" stop-color="#4427b6"/><stop offset="0.095" stop-color="#4428b7"/><stop offset="0.111" stop-color="#4428b9"/><stop offset="0.127" stop-color="#4429bb"/><stop offset="0.143" stop-color="#442abc"/><stop offset="0.159" stop-color="#442bbe"/><stop offset="0.175" stop-color="#442cc1"/><stop offset="0.190" stop-color="#442dc4"/><stop offset="0.206" stop-color="#452fc8"/><stop offset="0.222" stop-color="#4530cc"/><stop offset="0.238" stop-color="#4531ce"/><stop offset="0.254" stop-color="#4532d1"/><stop offset="0.270" stop-color="#4534d3"/><stop offset="0.286" stop-color="#4535d6"/><stop offset="0.302" stop-color="#4437da"/><stop offset="0.317" stop-color="#4439dd"/><stop offset="0.333" stop-color="#443ce0"/><stop offset="0.349" stop-color="#4440e4"/><stop offset="0.365" stop-color="#4343e7"/><stop offset="0.381" stop-color="#4346ea"/><stop offset="0.397" stop-color="#4249ed"/><stop offset="0.413" stop-color="#414bef"/><stop offset="0.429" stop-color="#414df1"/><stop offset="0.444" stop-color="#404ff3"/><stop offset="0.460" stop-color="#4050f5"/><stop offset="0.476" stop-color="#3f51f6"/><stop offset="0.492" stop-color="#3e52f7"/><stop offset="0.508" stop-color="#3d52f8"/><stop offset="0.524" stop-color="#3c53f9"/><stop offset="0.540" stop-color="#3b53f9"/><stop offset="0.556" stop-color="#3a54fa"/><stop offset="0.635" stop-color="#3a54fa"/><stop offset="0.651" stop-color="#3b53f9"/><stop offset="0.667" stop-color="#3c53f9"/><stop offset="0.683" stop-color="#3d52f8"/><stop offset="0.698" stop-color="#3e51f7"/><stop offset="0.714" stop-color="#3f50f5"/><stop offset="0.730" stop-color="#404ef3"/><stop offset="0.746" stop-color="#414cf1"/><stop offset="0.762" stop-color="#4249ee"/><stop offset="0.778" stop-color="#4246ea"/><stop offset="0.794" stop-color="#4343e7"/><stop offset="0.810" stop-color="#443ee2"/><stop offset="0.825" stop-color="#443ade"/><stop offset="0.841" stop-color="#4437da"/><stop offset="0.857" stop-color="#4535d6"/><stop offset="0.873" stop-color="#4533d2"/><stop offset="0.889" stop-color="#4532cf"/><stop offset="0.905" stop-color="#4530cc"/><stop offset="0.921" stop-color="#452ec7"/><stop offset="0.937" stop-color="#442dc2"/><stop offset="0.952" stop-color="#442bbf"/><stop offset="0.968" stop-color="#442abc"/><stop offset="0.984" stop-color="#4429ba"/><stop offset="1.000" stop-color="#4428b8"/></linearGradient><linearGradient id="g22" x1="0" y1="0" x2="0" y2="1"><stop offset="0.000" stop-color="#4325b3"/><stop offset="0.017" stop-color="#4326b4"/><stop offset="0.034" stop-color="#4426b4"/><stop offset="0.051" stop-color="#4427b5"/><stop offset="0.068" stop-color="#4427b6"/><stop offset="0.085" stop-color="#4428b8"/><stop offset="0.102" stop-color="#4428b9"/><stop offset="0.119" stop-color="#4429ba"/><stop offset="0.136" stop-color="#442abc"/><stop offset="0.153" stop-color="#442bbe"/><stop offset="0.169" stop-color="#442cbf"/><stop offset="0.186" stop-color="#442dc2"/><stop offset="0.203" stop-color="#442ec5"/><stop offset="0.220" stop-color="#452fc8"/><stop offset="0.237" stop-color="#4530cc"/><stop offset="0.254" stop-color="#4531ce"/><stop offset="0.271" stop-color="#4532d0"/><stop offset="0.288" stop-color="#4533d2"/><stop offset="0.305" stop-color="#4534d4"/><stop offset="0.322" stop-color="#4535d7"/><stop offset="0.339" stop-color="#4437d9"/><stop offset="0.356" stop-color="#4438dc"/><stop offset="0.373" stop-color="#443bdf"/><stop offset="0.390" stop-color="#443de1"/><stop offset="0.407" stop-color="#4440e4"/><stop offset="0.424" stop-color="#4442e6"/><stop offset="0.441" stop-color="#4344e8"/><stop offset="0.458" stop-color="#4346ea"/><stop offset="0.475" stop-color="#4248ec"/><stop offset="0.492" stop-color="#4249ed"/><stop offset="0.508" stop-color="#414aee"/><stop offset="0.525" stop-color="#414bef"/><stop offset="0.542" stop-color="#414cf0"/><stop offset="0.559" stop-color="#414df1"/><stop offset="0.576" stop-color="#414df2"/><stop offset="0.593" stop-color="#414ef2"/><stop offset="0.610" stop-color="#414ef2"/><stop offset="0.627" stop-color="#414ef3"/><stop offset="0.644" stop-color="#414ef2"/><stop offset="0.661" stop-color="#414df2"/><stop offset="0.678" stop-color="#414cf1"/><stop offset="0.695" stop-color="#414bf0"/><stop offset="0.712" stop-color="#424aee"/><stop offset="0.729" stop-color="#4248ec"/><stop offset="0.746" stop-color="#4346ea"/><stop offset="0.763" stop-color="#4343e7"/><stop offset="0.780" stop-color="#4440e4"/><stop offset="0.797" stop-color="#443de1"/><stop offset="0.814" stop-color="#4439dd"/><stop offset="0.831" stop-color="#4437d9"/><stop offset="0.847" stop-color="#4535d6"/><stop offset="0.864" stop-color="#4533d3"/><stop offset="0.881" stop-color="#4532d0"/><stop offset="0.898" stop-color="#4530cd"/><stop offset="0.915" stop-color="#452fc8"/><stop offset="0.932" stop-color="#442dc4"/><stop offset="0.949" stop-color="#442cc0"/><stop offset="0.966" stop-color="#442bbd"/><stop offset="0.983" stop-color="#4429bb"/><stop offset="1.000" stop-color="#4428b9"/></linearGradient><linearGradient id="g23" x1="0" y1="0" x2="0" y2="1"><stop offset="0.000" stop-color="#4325b2"/><stop offset="0.300" stop-color="#4325b2"/><stop offset="0.400" stop-color="#4325b3"/><stop offset="0.500" stop-color="#4326b4"/><stop offset="0.600" stop-color="#4426b5"/><stop offset="0.700" stop-color="#4427b6"/><stop offset="0.800" stop-color="#4428b8"/><stop offset="0.900" stop-color="#4429b9"/><stop offset="1.000" stop-color="#442abb"/></linearGradient><linearGradient id="g24" x1="0" y1="0" x2="0" y2="1"><stop offset="0.000" stop-color="#442bbe"/><stop offset="0.024" stop-color="#442cc0"/><stop offset="0.048" stop-color="#442dc4"/><stop offset="0.071" stop-color="#452fc8"/><stop offset="0.095" stop-color="#4530cc"/><stop offset="0.119" stop-color="#4531cf"/><stop offset="0.143" stop-color="#4533d1"/><stop offset="0.167" stop-color="#4534d4"/><stop offset="0.190" stop-color="#4535d7"/><stop offset="0.214" stop-color="#4437da"/><stop offset="0.238" stop-color="#4439dd"/><stop offset="0.262" stop-color="#443ce0"/><stop offset="0.286" stop-color="#443ee2"/><stop offset="0.310" stop-color="#4441e5"/><stop offset="0.333" stop-color="#4343e7"/><stop offset="0.357" stop-color="#4345e9"/><stop offset="0.381" stop-color="#4247eb"/><stop offset="0.405" stop-color="#4248ec"/><stop offset="0.429" stop-color="#4249ed"/><stop offset="0.452" stop-color="#424aee"/><stop offset="0.476" stop-color="#414aee"/><stop offset="0.500" stop-color="#414aee"/><stop offset="0.524" stop-color="#424aee"/><stop offset="0.548" stop-color="#4249ee"/><stop offset="0.571" stop-color="#4249ed"/><stop offset="0.595" stop-color="#4247eb"/><stop offset="0.619" stop-color="#4345e9"/><stop offset="0.643" stop-color="#4343e7"/><stop offset="0.667" stop-color="#4440e4"/><stop offset="0.690" stop-color="#443ce0"/><stop offset="0.714" stop-color="#4439dd"/><stop offset="0.738" stop-color="#4436d9"/><stop offset="0.762" stop-color="#4535d5"/><stop offset="0.786" stop-color="#4533d2"/><stop offset="0.810" stop-color="#4531cf"/><stop offset="0.833" stop-color="#4530cc"/><stop offset="0.857" stop-color="#452ec7"/><stop offset="0.881" stop-color="#442dc2"/><stop offset="0.905" stop-color="#442bbe"/><stop offset="0.929" stop-color="#442abc"/><stop offset="0.952" stop-color="#4429b9"/><stop offset="0.976" stop-color="#4428b7"/><stop offset="1.000" stop-color="#4427b6"/></linearGradient><linearGradient id="g25" x1="0" y1="0" x2="0" y2="1"><stop offset="0.000" stop-color="#4427b7"/><stop offset="0.023" stop-color="#4428b8"/><stop offset="0.045" stop-color="#4429ba"/><stop offset="0.068" stop-color="#442abc"/><stop offset="0.091" stop-color="#442bbe"/><stop offset="0.114" stop-color="#442cc1"/><stop offset="0.136" stop-color="#442ec5"/><stop offset="0.159" stop-color="#452fc9"/><stop offset="0.182" stop-color="#4530cd"/><stop offset="0.205" stop-color="#4532cf"/><stop offset="0.227" stop-color="#4533d2"/><stop offset="0.250" stop-color="#4534d4"/><stop offset="0.273" stop-color="#4535d7"/><stop offset="0.295" stop-color="#4437da"/><stop offset="0.318" stop-color="#4438dc"/><stop offset="0.341" stop-color="#443bdf"/><stop offset="0.364" stop-color="#443de1"/><stop offset="0.386" stop-color="#443fe3"/><stop offset="0.409" stop-color="#4441e5"/><stop offset="0.432" stop-color="#4442e6"/><stop offset="0.455" stop-color="#4343e7"/><stop offset="0.545" stop-color="#4343e7"/><stop offset="0.568" stop-color="#4441e5"/><stop offset="0.591" stop-color="#4440e4"/><stop offset="0.614" stop-color="#443de1"/><stop offset="0.636" stop-color="#443ade"/><stop offset="0.659" stop-color="#4438db"/><stop offset="0.682" stop-color="#4436d8"/><stop offset="0.705" stop-color="#4535d5"/><stop offset="0.727" stop-color="#4533d2"/><stop offset="0.750" stop-color="#4531cf"/><stop offset="0.773" stop-color="#4530cc"/><stop offset="0.795" stop-color="#452ec7"/><stop offset="0.818" stop-color="#442dc2"/><stop offset="0.841" stop-color="#442bbf"/><stop offset="0.864" stop-color="#442abc"/><stop offset="0.886" stop-color="#4429ba"/><stop offset="0.909" stop-color="#4428b8"/><stop offset="0.932" stop-color="#4427b6"/><stop offset="0.955" stop-color="#4426b4"/><stop offset="0.977" stop-color="#4325b3"/><stop offset="1.000" stop-color="#4325b2"/></linearGradient><linearGradient id="g26" x1="0" y1="0" x2="0" y2="1"><stop offset="0.000" stop-color="#4427b6"/><stop offset="0.022" stop-color="#4428b8"/><stop offset="0.044" stop-color="#4429b9"/><stop offset="0.067" stop-color="#442abb"/><stop offset="0.089" stop-color="#442bbe"/><stop offset="0.111" stop-color="#442cc0"/><stop offset="0.133" stop-color="#442dc4"/><stop offset="0.156" stop-color="#452fc8"/><stop offset="0.178" stop-color="#4530cc"/><stop offset="0.200" stop-color="#4531ce"/><stop offset="0.222" stop-color="#4532d1"/><stop offset="0.244" stop-color="#4534d3"/><stop offset="0.267" stop-color="#4535d6"/><stop offset="0.289" stop-color="#4436d9"/><stop offset="0.311" stop-color="#4438db"/><stop offset="0.333" stop-color="#443ade"/><stop offset="0.356" stop-color="#443ce0"/><stop offset="0.378" stop-color="#443ee2"/><stop offset="0.400" stop-color="#443fe3"/><stop offset="0.422" stop-color="#4440e4"/><stop offset="0.444" stop-color="#4441e5"/><stop offset="0.489" stop-color="#4441e5"/><stop offset="0.511" stop-color="#4440e4"/><stop offset="0.533" stop-color="#443fe3"/><stop offset="0.556" stop-color="#443de1"/><stop offset="0.578" stop-color="#443ade"/><stop offset="0.600" stop-color="#4438dc"/><stop offset="0.622" stop-color="#4436d9"/><stop offset="0.644" stop-color="#4535d5"/><stop offset="0.667" stop-color="#4533d2"/><stop offset="0.689" stop-color="#4532cf"/><stop offset="0.711" stop-color="#4530cc"/><stop offset="0.733" stop-color="#452ec7"/><stop offset="0.756" stop-color="#442dc2"/><stop offset="0.778" stop-color="#442bbf"/><stop offset="0.800" stop-color="#442abc"/><stop offset="0.822" stop-color="#4429ba"/><stop offset="0.844" stop-color="#4428b7"/><stop offset="0.867" stop-color="#4427b6"/><stop offset="0.889" stop-color="#4426b4"/><stop offset="0.911" stop-color="#4325b3"/><stop offset="0.933" stop-color="#4325b2"/><stop offset="1.000" stop-color="#4325b2"/></linearGradient><linearGradient id="g27" x1="0" y1="0" x2="0" y2="1"><stop offset="0.000" stop-color="#4325b2"/><stop offset="0.043" stop-color="#4325b2"/><stop offset="0.065" stop-color="#4325b3"/><stop offset="0.087" stop-color="#4326b4"/><stop offset="0.109" stop-color="#4427b5"/><stop offset="0.130" stop-color="#4427b7"/><stop offset="0.152" stop-color="#4428b8"/><stop offset="0.174" stop-color="#4429ba"/><stop offset="0.196" stop-color="#442abc"/><stop offset="0.217" stop-color="#442bbe"/><stop offset="0.239" stop-color="#442cc1"/><stop offset="0.261" stop-color="#442ec5"/><stop offset="0.283" stop-color="#452fc9"/><stop offset="0.304" stop-color="#4530cc"/><stop offset="0.326" stop-color="#4531cf"/><stop offset="0.348" stop-color="#4533d1"/><stop offset="0.370" stop-color="#4534d4"/><stop offset="0.391" stop-color="#4535d6"/><stop offset="0.413" stop-color="#4436d8"/><stop offset="0.435" stop-color="#4437db"/><stop offset="0.457" stop-color="#4439dd"/><stop offset="0.478" stop-color="#443bdf"/><stop offset="0.500" stop-color="#443ce0"/><stop offset="0.522" stop-color="#443de1"/><stop offset="0.543" stop-color="#443ee2"/><stop offset="0.609" stop-color="#443ee2"/><stop offset="0.630" stop-color="#443ce0"/><stop offset="0.652" stop-color="#443bdf"/><stop offset="0.674" stop-color="#4438dc"/><stop offset="0.696" stop-color="#4437da"/><stop offset="0.717" stop-color="#4536d7"/><stop offset="0.739" stop-color="#4534d4"/><stop offset="0.761" stop-color="#4533d1"/><stop offset="0.783" stop-color="#4531ce"/><stop offset="0.804" stop-color="#4530cb"/><stop offset="0.826" stop-color="#452ec6"/><stop offset="0.848" stop-color="#442dc2"/><stop offset="0.870" stop-color="#442bbe"/><stop offset="0.891" stop-color="#442abc"/><stop offset="0.913" stop-color="#4429b9"/><stop offset="0.935" stop-color="#4428b7"/><stop offset="0.957" stop-color="#4427b5"/><stop offset="0.978" stop-color="#4326b4"/><stop offset="1.000" stop-color="#4325b3"/></linearGradient><linearGradient id="g28" x1="0" y1="0" x2="0" y2="1"><stop offset="0.000" stop-color="#4325b2"/><stop offset="0.021" stop-color="#4325b2"/><stop offset="0.043" stop-color="#4325b3"/><stop offset="0.064" stop-color="#4326b4"/><stop offset="0.085" stop-color="#4427b5"/><stop offset="0.106" stop-color="#4427b7"/><stop offset="0.128" stop-color="#4428b8"/><stop offset="0.149" stop-color="#4429ba"/><stop offset="0.170" stop-color="#442abc"/><stop offset="0.191" stop-color="#442bbe"/><stop offset="0.213" stop-color="#442cc0"/><stop offset="0.234" stop-color="#442dc3"/><stop offset="0.255" stop-color="#452ec7"/><stop offset="0.277" stop-color="#4530cb"/><stop offset="0.298" stop-color="#4531cd"/><stop offset="0.319" stop-color="#4532d0"/><stop offset="0.340" stop-color="#4533d2"/><stop offset="0.362" stop-color="#4534d4"/><stop offset="0.383" stop-color="#4535d6"/><stop offset="0.404" stop-color="#4536d7"/><stop offset="0.426" stop-color="#4436d9"/><stop offset="0.447" stop-color="#4437da"/><stop offset="0.468" stop-color="#4438db"/><stop offset="0.489" stop-color="#4438dc"/><stop offset="0.511" stop-color="#4438dc"/><stop offset="0.532" stop-color="#4439dd"/><stop offset="0.553" stop-color="#4438dc"/><stop offset="0.574" stop-color="#4438db"/><stop offset="0.596" stop-color="#4437da"/><stop offset="0.617" stop-color="#4436d8"/><stop offset="0.638" stop-color="#4535d6"/><stop offset="0.660" stop-color="#4534d4"/><stop offset="0.681" stop-color="#4533d1"/><stop offset="0.702" stop-color="#4531cf"/><stop offset="0.723" stop-color="#4530cc"/><stop offset="0.745" stop-color="#452fc8"/><stop offset="0.766" stop-color="#442dc3"/><stop offset="0.787" stop-color="#442cbf"/><stop offset="0.809" stop-color="#442abd"/><stop offset="0.830" stop-color="#4429bb"/><stop offset="0.851" stop-color="#4428b8"/><stop offset="0.872" stop-color="#4427b6"/><stop offset="0.894" stop-color="#4426b5"/><stop offset="0.915" stop-color="#4326b3"/><stop offset="0.936" stop-color="#4325b2"/><stop offset="1.000" stop-color="#4325b2"/></linearGradient><linearGradient id="g29" x1="0" y1="0" x2="0" y2="1"><stop offset="0.000" stop-color="#4325b2"/><stop offset="0.098" stop-color="#4325b2"/><stop offset="0.122" stop-color="#4326b3"/><stop offset="0.146" stop-color="#4426b4"/><stop offset="0.171" stop-color="#4427b6"/><stop offset="0.195" stop-color="#4428b7"/><stop offset="0.220" stop-color="#4428b9"/><stop offset="0.244" stop-color="#4429ba"/><stop offset="0.268" stop-color="#442abc"/><stop offset="0.293" stop-color="#442bbe"/><stop offset="0.317" stop-color="#442cc1"/><stop offset="0.341" stop-color="#442dc4"/><stop offset="0.366" stop-color="#452fc8"/><stop offset="0.390" stop-color="#4530cb"/><stop offset="0.415" stop-color="#4531ce"/><stop offset="0.439" stop-color="#4532d0"/><stop offset="0.463" stop-color="#4533d1"/><stop offset="0.488" stop-color="#4534d3"/><stop offset="0.512" stop-color="#4534d5"/><stop offset="0.537" stop-color="#4535d6"/><stop offset="0.561" stop-color="#4536d8"/><stop offset="0.585" stop-color="#4436d9"/><stop offset="0.610" stop-color="#4437d9"/><stop offset="0.634" stop-color="#4437da"/><stop offset="0.659" stop-color="#4437da"/><stop offset="0.683" stop-color="#4437d9"/><stop offset="0.707" stop-color="#4436d9"/><stop offset="0.732" stop-color="#4536d7"/><stop offset="0.756" stop-color="#4535d6"/><stop offset="0.780" stop-color="#4534d4"/><stop offset="0.805" stop-color="#4533d2"/><stop offset="0.829" stop-color="#4532cf"/><stop offset="0.854" stop-color="#4531cd"/><stop offset="0.878" stop-color="#452fca"/><stop offset="0.902" stop-color="#442ec5"/><stop offset="0.927" stop-color="#442cc1"/><stop offset="0.951" stop-color="#442bbe"/><stop offset="0.976" stop-color="#442abc"/><stop offset="1.000" stop-color="#4429ba"/></linearGradient><linearGradient id="g30" x1="0" y1="0" x2="0" y2="1"><stop offset="0.000" stop-color="#4325b2"/><stop offset="0.122" stop-color="#4325b2"/><stop offset="0.146" stop-color="#4325b3"/><stop offset="0.171" stop-color="#4326b4"/><stop offset="0.195" stop-color="#4427b5"/><stop offset="0.220" stop-color="#4427b6"/><stop offset="0.244" stop-color="#4428b8"/><stop offset="0.268" stop-color="#4428b9"/><stop offset="0.293" stop-color="#4429bb"/><stop offset="0.317" stop-color="#442abc"/><stop offset="0.341" stop-color="#442bbe"/><stop offset="0.366" stop-color="#442cc0"/><stop offset="0.390" stop-color="#442dc3"/><stop offset="0.415" stop-color="#442ec5"/><stop offset="0.439" stop-color="#452fc8"/><stop offset="0.463" stop-color="#4530cb"/><stop offset="0.488" stop-color="#4530cd"/><stop offset="0.512" stop-color="#4531ce"/><stop offset="0.537" stop-color="#4532cf"/><stop offset="0.561" stop-color="#4532d0"/><stop offset="0.585" stop-color="#4532d1"/><stop offset="0.610" stop-color="#4533d2"/><stop offset="0.707" stop-color="#4533d2"/><stop offset="0.732" stop-color="#4532d1"/><stop offset="0.756" stop-color="#4532d0"/><stop offset="0.780" stop-color="#4531ce"/><stop offset="0.805" stop-color="#4530cd"/><stop offset="0.829" stop-color="#4530cb"/><stop offset="0.854" stop-color="#452fc8"/><stop offset="0.878" stop-color="#442dc4"/><stop offset="0.902" stop-color="#442cc1"/><stop offset="0.927" stop-color="#442bbe"/><stop offset="0.951" stop-color="#442abc"/><stop offset="0.976" stop-color="#4429ba"/><stop offset="1.000" stop-color="#4428b8"/></linearGradient><linearGradient id="g31" x1="0" y1="0" x2="0" y2="1"><stop offset="0.000" stop-color="#4325b2"/><stop offset="0.077" stop-color="#4325b2"/><stop offset="0.103" stop-color="#4325b3"/><stop offset="0.128" stop-color="#4326b4"/><stop offset="0.154" stop-color="#4426b5"/><stop offset="0.179" stop-color="#4427b6"/><stop offset="0.205" stop-color="#4427b7"/><stop offset="0.231" stop-color="#4428b8"/><stop offset="0.256" stop-color="#4429ba"/><stop offset="0.282" stop-color="#442abb"/><stop offset="0.308" stop-color="#442abd"/><stop offset="0.333" stop-color="#442bbe"/><stop offset="0.359" stop-color="#442cc0"/><stop offset="0.385" stop-color="#442dc2"/><stop offset="0.410" stop-color="#442dc4"/><stop offset="0.436" stop-color="#452ec6"/><stop offset="0.462" stop-color="#452fc8"/><stop offset="0.487" stop-color="#452fca"/><stop offset="0.513" stop-color="#4530cb"/><stop offset="0.538" stop-color="#4530cc"/><stop offset="0.564" stop-color="#4530cd"/><stop offset="0.590" stop-color="#4531cd"/><stop offset="0.667" stop-color="#4531cd"/><stop offset="0.692" stop-color="#4530cc"/><stop offset="0.718" stop-color="#4530cb"/><stop offset="0.744" stop-color="#452fca"/><stop offset="0.769" stop-color="#452ec7"/><stop offset="0.795" stop-color="#442ec5"/><stop offset="0.821" stop-color="#442dc2"/><stop offset="0.846" stop-color="#442cc0"/><stop offset="0.872" stop-color="#442bbe"/><stop offset="0.897" stop-color="#442abc"/><stop offset="0.923" stop-color="#4429ba"/><stop offset="0.949" stop-color="#4428b9"/><stop offset="0.974" stop-color="#4428b7"/><stop offset="1.000" stop-color="#4427b6"/></linearGradient><linearGradient id="g32" x1="0" y1="0" x2="0" y2="1"><stop offset="0.000" stop-color="#4325b2"/><stop offset="0.111" stop-color="#4325b2"/><stop offset="0.139" stop-color="#4326b3"/><stop offset="0.167" stop-color="#4426b4"/><stop offset="0.194" stop-color="#4427b5"/><stop offset="0.222" stop-color="#4427b6"/><stop offset="0.250" stop-color="#4428b7"/><stop offset="0.278" stop-color="#4428b8"/><stop offset="0.306" stop-color="#4429ba"/><stop offset="0.333" stop-color="#442abb"/><stop offset="0.361" stop-color="#442abc"/><stop offset="0.389" stop-color="#442bbe"/><stop offset="0.417" stop-color="#442bbf"/><stop offset="0.444" stop-color="#442cc0"/><stop offset="0.472" stop-color="#442cc1"/><stop offset="0.500" stop-color="#442dc3"/><stop offset="0.528" stop-color="#442dc4"/><stop offset="0.556" stop-color="#442ec5"/><stop offset="0.583" stop-color="#442ec6"/><stop offset="0.611" stop-color="#452ec6"/><stop offset="0.667" stop-color="#452ec6"/><stop offset="0.694" stop-color="#442ec6"/><stop offset="0.722" stop-color="#442ec5"/><stop offset="0.750" stop-color="#442dc3"/><stop offset="0.778" stop-color="#442cc1"/><stop offset="0.806" stop-color="#442cc0"/><stop offset="0.833" stop-color="#442bbe"/><stop offset="0.861" stop-color="#442abd"/><stop offset="0.889" stop-color="#442abb"/><stop offset="0.917" stop-color="#4429ba"/><stop offset="0.944" stop-color="#4428b8"/><stop offset="0.972" stop-color="#4427b7"/><stop offset="1.000" stop-color="#4427b6"/></linearGradient><linearGradient id="g33" x1="0" y1="0" x2="0" y2="1"><stop offset="0.000" stop-color="#4325b2"/><stop offset="0.029" stop-color="#4325b2"/><stop offset="0.059" stop-color="#4325b3"/><stop offset="0.088" stop-color="#4326b3"/><stop offset="0.118" stop-color="#4426b4"/><stop offset="0.147" stop-color="#4427b5"/><stop offset="0.176" stop-color="#4427b6"/><stop offset="0.206" stop-color="#4427b7"/><stop offset="0.235" stop-color="#4428b8"/><stop offset="0.265" stop-color="#4428b9"/><stop offset="0.294" stop-color="#4429ba"/><stop offset="0.324" stop-color="#4429bb"/><stop offset="0.353" stop-color="#442abc"/><stop offset="0.382" stop-color="#442abc"/><stop offset="0.412" stop-color="#442bbd"/><stop offset="0.441" stop-color="#442bbe"/><stop offset="0.471" stop-color="#442bbe"/><stop offset="0.500" stop-color="#442bbf"/><stop offset="0.618" stop-color="#442bbf"/><stop offset="0.647" stop-color="#442bbe"/><stop offset="0.676" stop-color="#442bbe"/><stop offset="0.706" stop-color="#442abd"/><stop offset="0.735" stop-color="#442abc"/><stop offset="0.765" stop-color="#4429bb"/><stop offset="0.794" stop-color="#4429ba"/><stop offset="0.824" stop-color="#4428b8"/><stop offset="0.853" stop-color="#4428b7"/><stop offset="0.882" stop-color="#4427b6"/><stop offset="0.912" stop-color="#4427b5"/><stop offset="0.941" stop-color="#4426b4"/><stop offset="0.971" stop-color="#4326b3"/><stop offset="1.000" stop-color="#4325b2"/></linearGradient><linearGradient id="g34" x1="0" y1="0" x2="0" y2="1"><stop offset="0.000" stop-color="#4428b8"/><stop offset="0.050" stop-color="#4429b9"/><stop offset="0.100" stop-color="#4429ba"/><stop offset="0.150" stop-color="#4429bb"/><stop offset="0.200" stop-color="#442abb"/><stop offset="0.250" stop-color="#442abc"/><stop offset="0.550" stop-color="#442abc"/><stop offset="0.600" stop-color="#442abb"/><stop offset="0.650" stop-color="#4429bb"/><stop offset="0.700" stop-color="#4429ba"/><stop offset="0.750" stop-color="#4428b9"/><stop offset="0.800" stop-color="#4428b8"/><stop offset="0.850" stop-color="#4428b7"/><stop offset="0.900" stop-color="#4427b6"/><stop offset="0.950" stop-color="#4427b5"/><stop offset="1.000" stop-color="#4426b4"/></linearGradient><linearGradient id="g35" x1="0" y1="0" x2="0" y2="1"><stop offset="0.000" stop-color="#4428b8"/><stop offset="0.048" stop-color="#4428b9"/><stop offset="0.095" stop-color="#4429b9"/><stop offset="0.143" stop-color="#4429b9"/><stop offset="0.190" stop-color="#4429ba"/><stop offset="0.381" stop-color="#4429ba"/><stop offset="0.429" stop-color="#4429b9"/><stop offset="0.476" stop-color="#4429b9"/><stop offset="0.524" stop-color="#4428b8"/><stop offset="0.571" stop-color="#4428b8"/><stop offset="0.619" stop-color="#4428b7"/><stop offset="0.667" stop-color="#4427b6"/><stop offset="0.714" stop-color="#4427b6"/><stop offset="0.762" stop-color="#4426b5"/><stop offset="0.810" stop-color="#4326b4"/><stop offset="0.857" stop-color="#4326b3"/><stop offset="0.905" stop-color="#4325b2"/><stop offset="1.000" stop-color="#4325b2"/></linearGradient><linearGradient id="g36" x1="0" y1="0" x2="0" y2="1"><stop offset="0.000" stop-color="#4426b5"/><stop offset="0.037" stop-color="#4427b5"/><stop offset="0.074" stop-color="#4427b6"/><stop offset="0.111" stop-color="#4427b6"/><stop offset="0.148" stop-color="#4427b7"/><stop offset="0.185" stop-color="#4427b7"/><stop offset="0.222" stop-color="#4428b7"/><stop offset="0.259" stop-color="#4428b8"/><stop offset="0.333" stop-color="#4428b8"/><stop offset="0.370" stop-color="#4428b9"/><stop offset="0.407" stop-color="#4428b9"/><stop offset="0.444" stop-color="#4429b9"/><stop offset="0.481" stop-color="#4429b9"/><stop offset="0.519" stop-color="#4429ba"/><stop offset="0.815" stop-color="#4429ba"/><stop offset="0.852" stop-color="#4429b9"/><stop offset="0.889" stop-color="#4429b9"/><stop offset="0.926" stop-color="#4428b9"/><stop offset="0.963" stop-color="#4428b8"/><stop offset="1.000" stop-color="#4428b8"/></linearGradient></defs><circle cx="273.4" cy="913.5" r="6.45" fill="#4325b2"/><rect x="266.67" y="923.5" width="13.50" height="15.9" rx="6.45" fill="#4325b2"/><circle cx="273.4" cy="949.0" r="6.45" fill="#4325b2"/><rect x="266.67" y="959.1" width="13.50" height="235.3" rx="6.45" fill="url(#g1)"/><circle cx="286.1" cy="930.0" r="6.45" fill="#4325b2"/><circle cx="286.1" cy="957.5" r="6.45" fill="#4325b2"/><rect x="279.31" y="980.5" width="13.50" height="216.4" rx="6.45" fill="url(#g2)"/><circle cx="298.7" cy="957.5" r="6.45" fill="#4325b2"/><rect x="291.95" y="983.5" width="13.50" height="211.4" rx="6.45" fill="url(#g3)"/><circle cx="311.3" cy="908.3" r="6.45" fill="#4325b2"/><rect x="304.59" y="967.1" width="13.50" height="224.8" rx="6.45" fill="url(#g4)"/><circle cx="324.0" cy="913.8" r="6.45" fill="#4325b2"/><rect x="317.23" y="929.0" width="13.50" height="15.4" rx="6.45" fill="#4325b2"/><rect x="317.23" y="983.5" width="13.50" height="194.4" rx="6.45" fill="url(#g5)"/><circle cx="336.6" cy="894.7" r="6.45" fill="#4325b2"/><rect x="329.87" y="912.5" width="13.50" height="23.5" rx="6.45" fill="#4325b2"/><circle cx="336.6" cy="944.5" r="6.45" fill="#4325b3"/><rect x="329.87" y="953.5" width="13.50" height="23.4" rx="6.45" fill="url(#g6)"/><rect x="329.87" y="981.3" width="13.50" height="191.1" rx="6.45" fill="url(#g7)"/><circle cx="349.3" cy="927.6" r="6.45" fill="#4325b2"/><circle cx="349.3" cy="943.6" r="6.45" fill="#4426b5"/><rect x="342.51" y="956.3" width="13.50" height="18.1" rx="6.45" fill="url(#g8)"/><rect x="342.51" y="983.5" width="13.50" height="194.9" rx="6.45" fill="url(#g9)"/><circle cx="361.9" cy="900.0" r="6.45" fill="#4325b2"/><rect x="355.15" y="977.9" width="13.50" height="211.0" rx="6.45" fill="url(#g10)"/><rect x="367.79" y="934.1" width="13.50" height="24.1" rx="6.45" fill="url(#g11)"/><rect x="367.79" y="964.2" width="13.50" height="221.7" rx="6.45" fill="url(#g12)"/><rect x="380.43" y="944.9" width="13.50" height="212.5" rx="6.45" fill="url(#g13)"/><circle cx="399.8" cy="889.0" r="6.45" fill="#4325b2"/><circle cx="399.8" cy="904.0" r="6.45" fill="#4325b2"/><circle cx="399.8" cy="935.4" r="6.45" fill="#4427b6"/><rect x="393.07" y="944.9" width="13.50" height="215.0" rx="6.45" fill="url(#g14)"/><circle cx="412.5" cy="916.3" r="6.45" fill="#4325b2"/><rect x="405.71" y="931.8" width="13.50" height="232.6" rx="6.45" fill="url(#g15)"/><circle cx="425.1" cy="894.7" r="6.45" fill="#4325b2"/><rect x="418.35" y="929.0" width="13.50" height="235.4" rx="6.45" fill="url(#g16)"/><circle cx="425.1" cy="1174.0" r="6.45" fill="#4427b6"/><circle cx="437.7" cy="908.3" r="6.45" fill="#4325b2"/><rect x="430.99" y="929.0" width="13.50" height="237.9" rx="6.45" fill="url(#g17)"/><rect x="443.63" y="909.8" width="13.50" height="243.2" rx="6.45" fill="url(#g18)"/><rect x="456.27" y="904.0" width="13.50" height="252.9" rx="6.45" fill="url(#g19)"/><circle cx="475.7" cy="901.6" r="6.45" fill="#4325b2"/><rect x="468.91" y="907.5" width="13.50" height="253.9" rx="6.45" fill="url(#g20)"/><rect x="481.55" y="907.5" width="13.50" height="252.4" rx="6.45" fill="url(#g21)"/><rect x="494.19" y="909.5" width="13.50" height="237.4" rx="6.45" fill="url(#g22)"/><rect x="506.83" y="836.1" width="13.50" height="26.9" rx="6.45" fill="#4325b2"/><circle cx="513.6" cy="873.0" r="6.45" fill="#4325b2"/><circle cx="513.6" cy="896.0" r="6.45" fill="#4325b2"/><rect x="506.83" y="924.2" width="13.50" height="40.0" rx="6.45" fill="url(#g23)"/><rect x="506.83" y="969.8" width="13.50" height="170.3" rx="6.45" fill="url(#g24)"/><rect x="519.47" y="844.5" width="13.50" height="57.2" rx="6.45" fill="#4325b2"/><rect x="519.47" y="925.5" width="13.50" height="19.4" rx="6.45" fill="#4325b2"/><rect x="519.47" y="966.3" width="13.50" height="177.1" rx="6.45" fill="url(#g25)"/><circle cx="538.9" cy="848.2" r="6.45" fill="#4325b2"/><circle cx="538.9" cy="870.4" r="6.45" fill="#4325b2"/><rect x="532.11" y="893.5" width="13.50" height="47.9" rx="6.45" fill="#4325b2"/><rect x="532.11" y="969.5" width="13.50" height="181.9" rx="6.45" fill="url(#g26)"/><rect x="544.75" y="876.5" width="13.50" height="53.6" rx="6.45" fill="#4325b2"/><rect x="544.75" y="948.1" width="13.50" height="186.3" rx="6.45" fill="url(#g27)"/><circle cx="564.1" cy="832.3" r="6.45" fill="#4325b2"/><circle cx="564.1" cy="872.0" r="6.45" fill="#4325b2"/><rect x="557.39" y="901.5" width="13.50" height="28.6" rx="6.45" fill="#4325b2"/><circle cx="564.1" cy="948.8" r="6.45" fill="#4325b2"/><rect x="557.39" y="954.9" width="13.50" height="190.9" rx="6.45" fill="url(#g28)"/><rect x="570.03" y="849.8" width="13.50" height="29.1" rx="6.45" fill="#4325b2"/><rect x="570.03" y="902.5" width="13.50" height="39.9" rx="6.45" fill="#4325b2"/><rect x="570.03" y="945.8" width="13.50" height="167.6" rx="6.45" fill="url(#g29)"/><rect x="582.67" y="873.1" width="13.50" height="32.0" rx="6.45" fill="#4325b2"/><rect x="582.67" y="914.0" width="13.50" height="28.6" rx="6.45" fill="#4325b2"/><rect x="582.67" y="945.8" width="13.50" height="164.6" rx="6.45" fill="url(#g30)"/><circle cx="602.1" cy="780.0" r="6.45" fill="#4325b2"/><circle cx="602.1" cy="852.4" r="6.45" fill="#4325b2"/><rect x="595.31" y="957.2" width="13.50" height="156.2" rx="6.45" fill="url(#g31)"/><circle cx="614.7" cy="893.7" r="6.45" fill="#4325b2"/><circle cx="614.7" cy="948.8" r="6.45" fill="#4325b2"/><rect x="607.95" y="960.5" width="13.50" height="147.8" rx="6.45" fill="url(#g32)"/><circle cx="627.3" cy="868.7" r="6.45" fill="#4325b2"/><rect x="620.59" y="977.5" width="13.50" height="137.6" rx="6.45" fill="url(#g33)"/><circle cx="627.3" cy="1131.0" r="6.45" fill="#4325b2"/><rect x="633.23" y="854.3" width="13.50" height="34.9" rx="6.45" fill="#4325b2"/><circle cx="640.0" cy="914.0" r="6.45" fill="#4325b2"/><circle cx="640.0" cy="940.9" r="6.45" fill="#4325b2"/><circle cx="640.0" cy="973.8" r="6.45" fill="#4325b2"/><rect x="633.23" y="1019.5" width="13.50" height="82.9" rx="6.45" fill="url(#g34)"/><circle cx="640.0" cy="1120.8" r="6.45" fill="#4325b2"/><circle cx="652.6" cy="825.5" r="6.45" fill="#4325b2"/><rect x="645.87" y="833.3" width="13.50" height="42.9" rx="6.45" fill="#4325b2"/><rect x="645.87" y="889.5" width="13.50" height="14.6" rx="6.45" fill="#4325b2"/><circle cx="652.6" cy="921.5" r="6.45" fill="#4325b2"/><rect x="645.87" y="980.4" width="13.50" height="19.4" rx="6.45" fill="#4325b2"/><rect x="645.87" y="1029.5" width="13.50" height="84.5" rx="6.45" fill="url(#g35)"/><rect x="658.51" y="950.8" width="13.50" height="40.0" rx="6.45" fill="#4326b4"/><rect x="658.51" y="1004.5" width="13.50" height="106.9" rx="6.45" fill="#4428b9"/><circle cx="677.9" cy="941.0" r="6.45" fill="#4325b2"/><circle cx="677.9" cy="964.6" r="6.45" fill="#4325b3"/><rect x="671.15" y="991.8" width="13.50" height="108.6" rx="6.45" fill="#4428b9"/><circle cx="677.9" cy="1116.0" r="6.45" fill="#4427b5"/><circle cx="690.5" cy="766.4" r="6.45" fill="#4325b2"/><circle cx="690.5" cy="785.7" r="6.45" fill="#4325b2"/><circle cx="690.5" cy="829.0" r="6.45" fill="#4325b2"/><rect x="683.79" y="953.0" width="13.50" height="18.0" rx="6.45" fill="#4325b3"/><rect x="683.79" y="983.8" width="13.50" height="110.6" rx="6.45" fill="url(#g36)"/><circle cx="690.5" cy="1110.5" r="6.45" fill="#4427b6"/><rect x="696.43" y="744.5" width="13.50" height="17.9" rx="6.45" fill="#4325b2"/><circle cx="703.2" cy="815.8" r="6.45" fill="#4325b2"/><rect x="696.43" y="984.9" width="13.50" height="98.4" rx="6.45" fill="#4325b2"/><rect x="709.07" y="746.2" width="13.50" height="27.7" rx="6.45" fill="#4325b2"/><rect x="709.07" y="934.3" width="13.50" height="66.7" rx="6.45" fill="#4325b2"/><rect x="709.07" y="1018.3" width="13.50" height="21.8" rx="6.45" fill="#4325b2"/><rect x="709.07" y="1065.0" width="13.50" height="16.1" rx="6.45" fill="#4325b2"/><circle cx="728.5" cy="802.8" r="6.45" fill="#4325b2"/><rect x="721.71" y="958.8" width="13.50" height="42.6" rx="6.45" fill="#4325b2"/><rect x="721.71" y="1057.0" width="13.50" height="21.7" rx="6.45" fill="#4325b2"/><circle cx="728.5" cy="1095.2" r="6.45" fill="#4325b2"/><circle cx="741.1" cy="814.7" r="6.45" fill="#4325b2"/><rect x="734.35" y="958.8" width="13.50" height="18.3" rx="6.45" fill="#4325b2"/><rect x="734.35" y="1035.3" width="13.50" height="24.1" rx="6.45" fill="#4325b2"/><circle cx="741.1" cy="1071.9" r="6.45" fill="#4325b2"/><rect x="746.99" y="948.0" width="13.50" height="16.1" rx="6.45" fill="#4325b2"/><circle cx="766.4" cy="935.5" r="6.45" fill="#4325b2"/><rect x="759.63" y="950.8" width="13.50" height="15.6" rx="6.45" fill="#4325b2"/><circle cx="766.4" cy="1000.7" r="6.45" fill="#4325b2"/><rect x="772.27" y="958.8" width="13.50" height="21.8" rx="6.45" fill="#4325b2"/><circle cx="779.0" cy="991.3" r="6.45" fill="#4325b2"/><circle cx="779.0" cy="1011.8" r="6.45" fill="#4325b2"/><circle cx="779.0" cy="1106.5" r="6.45" fill="#4325b2"/><rect x="784.91" y="966.8" width="13.50" height="29.7" rx="6.45" fill="#4325b2"/><circle cx="804.3" cy="940.0" r="6.45" fill="#4325b2"/><circle cx="816.9" cy="971.0" r="6.45" fill="#4325b2"/><circle cx="829.6" cy="961.6" r="6.45" fill="#4325b2"/><circle cx="854.9" cy="986.4" r="6.45" fill="#4325b2"/><circle cx="905.4" cy="997.2" r="6.45" fill="#4325b2"/><rect x="519.2" y="1000.1" width="2.6" height="2.6" fill="#fff"/><rect x="530.5" y="1000.1" width="2.6" height="2.6" fill="#fff"/><rect x="544.2" y="1018.7" width="2.6" height="2.6" fill="#fff"/><rect x="557.2" y="1030.2" width="2.6" height="2.6" fill="#fff"/><rect x="568.7" y="1030.2" width="2.6" height="2.6" fill="#fff"/><rect x="582.3" y="1021.7" width="2.6" height="2.6" fill="#fff"/><rect x="593.1" y="1021.7" width="2.6" height="2.6" fill="#fff"/><rect x="596.2" y="1000.7" width="2.6" height="2.6" fill="#fff"/><rect x="606.7" y="1000.1" width="2.6" height="2.6" fill="#fff"/><rect x="607.3" y="1013.1" width="2.6" height="2.6" fill="#fff"/><rect x="607.3" y="1043.3" width="2.6" height="2.6" fill="#fff"/><rect x="620.4" y="1051.7" width="2.6" height="2.6" fill="#fff"/><rect x="631.2" y="1051.7" width="2.6" height="2.6" fill="#fff"/><rect x="646.7" y="1056.7" width="2.6" height="2.6" fill="#fff"/><rect x="657.7" y="1056.7" width="2.6" height="2.6" fill="#fff"/><rect x="557.7" y="1068.3" width="2.6" height="2.6" fill="#fff"/><rect x="568.7" y="1068.3" width="2.6" height="2.6" fill="#fff"/><rect x="595.9" y="1068.3" width="2.6" height="2.6" fill="#fff"/><rect x="606.7" y="1068.3" width="2.6" height="2.6" fill="#fff"/><rect x="557.7" y="1077.4" width="2.6" height="2.6" fill="#fff"/><rect x="568.7" y="1077.4" width="2.6" height="2.6" fill="#fff"/><rect x="620.4" y="1076.2" width="2.6" height="2.6" fill="#fff"/><rect x="631.2" y="1076.2" width="2.6" height="2.6" fill="#fff"/><rect x="659.0" y="1076.2" width="2.6" height="2.6" fill="#fff"/><rect x="669.7" y="1076.2" width="2.6" height="2.6" fill="#fff"/><rect x="681.7" y="1076.2" width="2.6" height="2.6" fill="#fff"/><rect x="693.7" y="1076.2" width="2.6" height="2.6" fill="#fff"/><rect x="645.4" y="1084.2" width="2.6" height="2.6" fill="#fff"/><rect x="620.4" y="1089.7" width="2.6" height="2.6" fill="#fff"/><rect x="631.2" y="1089.7" width="2.6" height="2.6" fill="#fff"/><rect x="519.2" y="1099.0" width="2.6" height="2.6" fill="#fff"/><rect x="530.5" y="1099.0" width="2.6" height="2.6" fill="#fff"/><rect x="544.2" y="1100.7" width="2.6" height="2.6" fill="#fff"/><rect x="579.4" y="1100.7" width="2.6" height="2.6" fill="#fff"/><rect x="659.0" y="1097.7" width="2.6" height="2.6" fill="#fff"/><rect x="669.2" y="1097.7" width="2.6" height="2.6" fill="#fff"/><rect x="519.2" y="1114.3" width="2.6" height="2.6" fill="#fff"/><rect x="530.5" y="1114.3" width="2.6" height="2.6" fill="#fff"/><rect x="620.4" y="1102.4" width="2.6" height="2.6" fill="#fff"/><rect x="393.7" y="956.2" width="2.6" height="2.6" fill="#fff"/><rect x="404.5" y="956.2" width="2.6" height="2.6" fill="#fff"/><rect x="380.1" y="972.7" width="2.6" height="2.6" fill="#fff"/><rect x="390.9" y="972.7" width="2.6" height="2.6" fill="#fff"/><rect x="415.9" y="942.7" width="2.6" height="2.6" fill="#fff"/><rect x="442.7" y="944.9" width="2.6" height="2.6" fill="#fff"/><rect x="454.0" y="944.9" width="2.6" height="2.6" fill="#fff"/><rect x="339.2" y="964.2" width="2.6" height="2.6" fill="#fff"/><rect x="303.9" y="985.7" width="2.6" height="2.6" fill="#fff"/><rect x="315.3" y="987.0" width="2.6" height="2.6" fill="#fff"/><rect x="293.1" y="1005.1" width="2.6" height="2.6" fill="#fff"/><rect x="301.1" y="1005.1" width="2.6" height="2.6" fill="#fff"/><rect x="276.7" y="1013.1" width="2.6" height="2.6" fill="#fff"/><rect x="442.7" y="983.5" width="2.6" height="2.6" fill="#fff"/><rect x="481.7" y="923.7" width="2.6" height="2.6" fill="#fff"/><rect x="491.7" y="923.7" width="2.6" height="2.6" fill="#fff"/><rect x="456.7" y="935.7" width="2.6" height="2.6" fill="#fff"/><rect x="467.7" y="935.7" width="2.6" height="2.6" fill="#fff"/><rect x="582.2" y="885.6" width="2.6" height="2.6" fill="#fff"/><rect x="582.2" y="893.5" width="2.6" height="2.6" fill="#fff"/><rect x="582.2" y="926.5" width="2.6" height="2.6" fill="#fff"/><rect x="535.6" y="936.7" width="2.6" height="2.6" fill="#fff"/><rect x="548.1" y="936.7" width="2.6" height="2.6" fill="#fff"/><rect x="481.0" y="959.5" width="2.6" height="2.6" fill="#fff"/><rect x="481.0" y="972.0" width="2.6" height="2.6" fill="#fff"/><rect x="492.4" y="972.0" width="2.6" height="2.6" fill="#fff"/><rect x="494.7" y="979.7" width="2.6" height="2.6" fill="#fff"/><rect x="506.0" y="982.2" width="2.6" height="2.6" fill="#fff"/><rect x="519.7" y="985.7" width="2.6" height="2.6" fill="#fff"/><rect x="531.0" y="985.7" width="2.6" height="2.6" fill="#fff"/><rect x="570.7" y="979.9" width="2.6" height="2.6" fill="#fff"/><rect x="579.9" y="979.9" width="2.6" height="2.6" fill="#fff"/><rect x="558.3" y="985.7" width="2.6" height="2.6" fill="#fff"/><rect x="569.7" y="985.7" width="2.6" height="2.6" fill="#fff"/><rect x="594.7" y="975.4" width="2.6" height="2.6" fill="#fff"/><rect x="607.2" y="975.4" width="2.6" height="2.6" fill="#fff"/><rect x="582.2" y="966.3" width="2.6" height="2.6" fill="#fff"/><rect x="593.0" y="966.3" width="2.6" height="2.6" fill="#fff"/><rect x="567.4" y="909.4" width="2.6" height="2.6" fill="#fff"/><rect x="519.3" y="1011.0" width="2.3" height="13.0" fill="#fff"/><rect x="531.0" y="1011.0" width="2.3" height="13.0" fill="#fff"/><rect x="521.6" y="1016.3" width="9.4" height="2.5" fill="#fff"/><rect x="634.0" y="1056.0" width="11.5" height="9.0" fill="#fff"/><rect x="609.7" y="1065.5" width="10.8" height="2.8" fill="#fff"/><rect x="609.7" y="1079.0" width="10.8" height="2.3" fill="#fff"/><rect x="520.5" y="1085.5" width="12.5" height="4.5" fill="#fff"/><rect x="482.3" y="921.0" width="12.5" height="2.5" fill="#fff"/><rect x="482.3" y="927.0" width="12.5" height="2.0" fill="#fff"/><rect x="457.6" y="935.0" width="3.4" height="4.0" fill="#fff"/><rect x="471.0" y="946.0" width="10.0" height="4.5" fill="#fff"/></g>
<rect x="233" y="46" width="1269" height="5" fill="#222222"/>
<rect x="238" y="51" width="1259" height="2.5" fill="#707070"/>
<rect x="233" y="1188" width="1269" height="5" fill="#222222"/>
<rect x="233" y="46" width="5" height="1147" fill="#222222"/>
<rect x="1497" y="46" width="5" height="1147" fill="#222222"/>
<rect x="238" y="959.6" width="8.5" height="5" fill="#222222"/>
<rect x="238" y="964.6" width="8.5" height="2.5" fill="#bbb"/>
<rect x="1488.5" y="959.6" width="8.5" height="5" fill="#222222"/>
<rect x="1488.5" y="964.6" width="8.5" height="2.5" fill="#bbb"/>
<rect x="486.8" y="1180" width="5" height="8" fill="#222222"/>
<rect x="484.3" y="1180" width="2.5" height="8" fill="#666"/>
<rect x="486.8" y="51" width="5" height="7.7" fill="#222222"/>
<rect x="238" y="731.2" width="8.5" height="5" fill="#222222"/>
<rect x="238" y="736.2" width="8.5" height="2.5" fill="#bbb"/>
<rect x="1488.5" y="731.2" width="8.5" height="5" fill="#222222"/>
<rect x="1488.5" y="736.2" width="8.5" height="2.5" fill="#bbb"/>
<rect x="739.6" y="1180" width="5" height="8" fill="#222222"/>
<rect x="737.1" y="1180" width="2.5" height="8" fill="#666"/>
<rect x="739.6" y="51" width="5" height="7.7" fill="#222222"/>
<rect x="238" y="502.8" width="8.5" height="5" fill="#222222"/>
<rect x="238" y="507.8" width="8.5" height="2.5" fill="#bbb"/>
<rect x="1488.5" y="502.8" width="8.5" height="5" fill="#222222"/>
<rect x="1488.5" y="507.8" width="8.5" height="2.5" fill="#bbb"/>
<rect x="992.4" y="1180" width="5" height="8" fill="#222222"/>
<rect x="989.9" y="1180" width="2.5" height="8" fill="#666"/>
<rect x="992.4" y="51" width="5" height="7.7" fill="#222222"/>
<rect x="238" y="274.4" width="8.5" height="5" fill="#222222"/>
<rect x="238" y="279.4" width="8.5" height="2.5" fill="#bbb"/>
<rect x="1488.5" y="274.4" width="8.5" height="5" fill="#222222"/>
<rect x="1488.5" y="279.4" width="8.5" height="2.5" fill="#bbb"/>
<rect x="1245.2" y="1180" width="5" height="8" fill="#222222"/>
<rect x="1242.7" y="1180" width="2.5" height="8" fill="#666"/>
<rect x="1245.2" y="51" width="5" height="7.7" fill="#222222"/>
<line x1="235.5" y1="1190.5" x2="1499.5" y2="48.5" stroke="#656565" stroke-width="5.2"/>
<g style="font-family:'Liberation Serif','Times New Roman',serif;font-size:71px" fill="#222" stroke="#fff" stroke-width="0.9">
<text x="213.5" y="1217.0" text-anchor="end">0</text>
<text x="213.5" y="988.6" text-anchor="end">20</text>
<text x="213.5" y="760.2" text-anchor="end">40</text>
<text x="213.5" y="531.8" text-anchor="end">60</text>
<text x="213.5" y="303.4" text-anchor="end">80</text>
<text x="213.5" y="75.0" text-anchor="end">100</text>
</g>
<g style="font-family:'Liberation Serif','Times New Roman',serif;font-size:68px" fill="#222" stroke="#fff" stroke-width="0.9">
<text x="236.0" y="1277.2" text-anchor="middle">0</text>
<text x="488.8" y="1277.2" text-anchor="middle">20</text>
<text x="741.6" y="1277.2" text-anchor="middle">40</text>
<text x="994.4" y="1277.2" text-anchor="middle">60</text>
<text x="1247.2" y="1277.2" text-anchor="middle">80</text>
<text x="1500.0" y="1277.2" text-anchor="middle">100</text>
</g>
<text x="867.5" y="1364.5" text-anchor="middle" style="font-family:'Liberation Serif','Times New Roman',serif;font-size:76px" fill="#222" stroke="#fff" stroke-width="0.9">Measured SD [cm]</text>
<text transform="translate(80,618) rotate(-90)" x="0" y="0" text-anchor="middle" style="font-family:'Liberation Serif','Times New Roman',serif;font-size:75px" fill="#222" stroke="#fff" stroke-width="0.9">Estimated SD [cm]</text>
<text x="767" y="1457" text-anchor="middle" style="font-family:'Liberation Serif','Times New Roman',serif;font-size:100px;font-weight:bold" fill="#000"><tspan stroke="#fff" stroke-width="3.2" style="font-size:105px">(</tspan>e<tspan stroke="#fff" stroke-width="3.2" style="font-size:105px">)</tspan></text>
<g style="font-family:'Liberation Sans',Arial,sans-serif;font-size:69px" fill="#080808">
<text x="678" y="143.5">R<tspan dy="-34" style="font-size:58px">2</tspan><tspan dy="34">=0.26</tspan></text>
<text x="678" y="214.5">RMSE: 6.8 cm</text>
<text x="678" y="293.8">Bias: -1.4 cm</text>
</g>
<g id="cb"><rect x="1598" y="1166.87" width="90" height="18.33" fill="#4324b0"/><rect x="1598" y="1149.13" width="90" height="18.33" fill="#4427b7"/><rect x="1598" y="1131.40" width="90" height="18.33" fill="#442bbf"/><rect x="1598" y="1113.66" width="90" height="18.33" fill="#452fca"/><rect x="1598" y="1095.93" width="90" height="18.33" fill="#4533d2"/><rect x="1598" y="1078.19" width="90" height="18.33" fill="#4437da"/><rect x="1598" y="1060.46" width="90" height="18.33" fill="#443fe3"/><rect x="1598" y="1042.72" width="90" height="18.33" fill="#4247eb"/><rect x="1598" y="1024.99" width="90" height="18.33" fill="#414df2"/><rect x="1598" y="1007.26" width="90" height="18.33" fill="#3e51f7"/><rect x="1598" y="989.52" width="90" height="18.33" fill="#3a54fa"/><rect x="1598" y="971.79" width="90" height="18.33" fill="#3359fd"/><rect x="1598" y="954.05" width="90" height="18.33" fill="#2a5eff"/><rect x="1598" y="936.32" width="90" height="18.33" fill="#2062ff"/><rect x="1598" y="918.58" width="90" height="18.33" fill="#0c6aff"/><rect x="1598" y="900.85" width="90" height="18.33" fill="#0073ff"/><rect x="1598" y="883.12" width="90" height="18.33" fill="#007bff"/><rect x="1598" y="865.38" width="90" height="18.33" fill="#0082fd"/><rect x="1598" y="847.65" width="90" height="18.33" fill="#0087f9"/><rect x="1598" y="829.91" width="90" height="18.33" fill="#008cf4"/><rect x="1598" y="812.18" width="90" height="18.33" fill="#0092f0"/><rect x="1598" y="794.44" width="90" height="18.33" fill="#0097ed"/><rect x="1598" y="776.71" width="90" height="18.33" fill="#009ce8"/><rect x="1598" y="758.97" width="90" height="18.33" fill="#00a1e3"/><rect x="1598" y="741.24" width="90" height="18.33" fill="#00a5df"/><rect x="1598" y="723.51" width="90" height="18.33" fill="#00a9da"/><rect x="1598" y="705.77" width="90" height="18.33" fill="#00add4"/><rect x="1598" y="688.04" width="90" height="18.33" fill="#00b0cf"/><rect x="1598" y="670.30" width="90" height="18.33" fill="#00b3cb"/><rect x="1598" y="652.57" width="90" height="18.33" fill="#00b6c7"/><rect x="1598" y="634.83" width="90" height="18.33" fill="#00b9c2"/><rect x="1598" y="617.10" width="90" height="18.33" fill="#00babd"/><rect x="1598" y="599.37" width="90" height="18.33" fill="#00bcb7"/><rect x="1598" y="581.63" width="90" height="18.33" fill="#00bfb1"/><rect x="1598" y="563.90" width="90" height="18.33" fill="#00c2a9"/><rect x="1598" y="546.16" width="90" height="18.33" fill="#00c4a0"/><rect x="1598" y="528.43" width="90" height="18.33" fill="#00c696"/><rect x="1598" y="510.69" width="90" height="18.33" fill="#00c98c"/><rect x="1598" y="492.96" width="90" height="18.33" fill="#00cc80"/><rect x="1598" y="475.22" width="90" height="18.33" fill="#00cc71"/><rect x="1598" y="457.49" width="90" height="18.33" fill="#00cc63"/><rect x="1598" y="439.76" width="90" height="18.33" fill="#00cc5b"/><rect x="1598" y="422.02" width="90" height="18.33" fill="#47cc51"/><rect x="1598" y="404.29" width="90" height="18.33" fill="#69cc41"/><rect x="1598" y="386.55" width="90" height="18.33" fill="#85c832"/><rect x="1598" y="368.82" width="90" height="18.33" fill="#a0c521"/><rect x="1598" y="351.08" width="90" height="18.33" fill="#b7c410"/><rect x="1598" y="333.35" width="90" height="18.33" fill="#cac401"/><rect x="1598" y="315.62" width="90" height="18.33" fill="#d9c100"/><rect x="1598" y="297.88" width="90" height="18.33" fill="#e3bd00"/><rect x="1598" y="280.15" width="90" height="18.33" fill="#f1b600"/><rect x="1598" y="262.41" width="90" height="18.33" fill="#f9b616"/><rect x="1598" y="244.68" width="90" height="18.33" fill="#fdb82f"/><rect x="1598" y="226.94" width="90" height="18.33" fill="#febe28"/><rect x="1598" y="209.21" width="90" height="18.33" fill="#ffc41f"/><rect x="1598" y="191.47" width="90" height="18.33" fill="#ffcb0e"/><rect x="1598" y="173.74" width="90" height="18.33" fill="#ffd100"/><rect x="1598" y="156.01" width="90" height="18.33" fill="#fdd700"/><rect x="1598" y="138.27" width="90" height="18.33" fill="#fcdc00"/><rect x="1598" y="120.54" width="90" height="18.33" fill="#fae100"/><rect x="1598" y="102.80" width="90" height="18.33" fill="#f9e500"/><rect x="1598" y="85.07" width="90" height="18.33" fill="#f7ea00"/><rect x="1598" y="67.33" width="90" height="18.33" fill="#f7f100"/><rect x="1598" y="49.60" width="90" height="18.33" fill="#f8fa00"/></g>
<rect x="1598" y="45.5" width="92.7" height="2.5" fill="#dcdce0"/>
<rect x="1598" y="48" width="90.2" height="3" fill="#929000"/>
<rect x="1595" y="48" width="3" height="1137" fill="#4a4a52"/>
<rect x="1688.2" y="48" width="2.5" height="1137" fill="#363636"/>
<rect x="1595" y="1182.8" width="95.7" height="2.2" fill="#363636"/>
<text x="1711" y="1206.1" style="font-family:'Liberation Serif','Times New Roman',serif;font-size:63px" fill="#222" stroke="#fff" stroke-width="0.9">0</text>
<rect x="1677" y="956.1" width="11" height="3" fill="#333"/>
<text x="1711" y="979.1" style="font-family:'Liberation Serif','Times New Roman',serif;font-size:63px" fill="#222" stroke="#fff" stroke-width="0.9">0.2</text>
<rect x="1677" y="729.1" width="11" height="3" fill="#333"/>
<text x="1711" y="752.1" style="font-family:'Liberation Serif','Times New Roman',serif;font-size:63px" fill="#222" stroke="#fff" stroke-width="0.9">0.4</text>
<rect x="1677" y="502.1" width="11" height="3" fill="#333"/>
<text x="1711" y="525.1" style="font-family:'Liberation Serif','Times New Roman',serif;font-size:63px" fill="#222" stroke="#fff" stroke-width="0.9">0.6</text>
<rect x="1677" y="275.1" width="11" height="3" fill="#333"/>
<text x="1711" y="298.1" style="font-family:'Liberation Serif','Times New Roman',serif;font-size:63px" fill="#222" stroke="#fff" stroke-width="0.9">0.8</text>
<text x="1711" y="71.1" style="font-family:'Liberation Serif','Times New Roman',serif;font-size:63px" fill="#222" stroke="#fff" stroke-width="0.9">1</text>
</svg>
</body></html>
